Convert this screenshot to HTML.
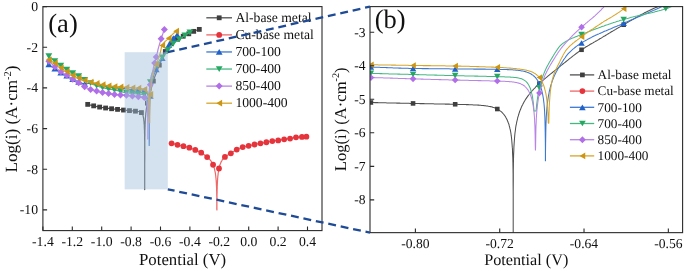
<!DOCTYPE html>
<html><head><meta charset="utf-8"><style>
html,body{margin:0;padding:0;background:#fff;width:685px;height:271px;overflow:hidden}
svg{display:block;will-change:transform}
text{font-family:"Liberation Serif",serif;text-rendering:geometricPrecision}
</style></head><body>
<svg width="685" height="271" viewBox="0 0 685 271" font-family="Liberation Serif, serif" fill="#111">
<defs><clipPath id="cl"><rect x="42.90" y="6.60" width="279.10" height="224.00"/></clipPath><clipPath id="cr"><rect x="370.00" y="6.60" width="312.60" height="226.05"/></clipPath></defs>
<g clip-path="url(#cl)"><path d="M87.0 104.2 L87.6 104.3 L88.2 104.5 L88.8 104.7 L89.4 104.8 L89.9 105.0 L90.5 105.1 L91.1 105.3 L91.7 105.4 L92.3 105.5 L92.9 105.7 L93.5 105.8 L94.1 105.9 L94.6 106.1 L95.2 106.2 L95.8 106.3 L96.4 106.5 L97.0 106.6 L97.6 106.7 L98.2 106.8 L98.8 106.9 L99.3 107.0 L99.9 107.1 L100.5 107.2 L101.1 107.3 L101.7 107.4 L102.3 107.5 L102.9 107.6 L103.5 107.7 L104.1 107.8 L104.6 107.9 L105.2 108.0 L105.8 108.0 L106.4 108.1 L107.0 108.2 L107.6 108.3 L108.2 108.3 L108.8 108.4 L109.3 108.5 L109.9 108.6 L110.5 108.6 L111.1 108.7 L111.7 108.8 L112.3 108.8 L112.9 108.9 L113.5 108.9 L114.0 109.0 L114.6 109.1 L115.2 109.1 L115.8 109.2 L116.4 109.3 L117.0 109.3 L117.6 109.4 L118.2 109.5 L118.8 109.5 L119.3 109.6 L119.9 109.7 L120.5 109.7 L121.1 109.8 L121.7 109.9 L122.3 109.9 L122.9 110.0 L123.5 110.0 L124.0 110.1 L124.6 110.2 L125.2 110.2 L125.8 110.3 L126.4 110.3 L127.0 110.4 L127.6 110.5 L128.2 110.5 L128.7 110.6 L129.3 110.6 L129.9 110.7 L130.5 110.7 L131.1 110.8 L131.7 110.8 L132.3 110.9 L132.9 110.9 L133.5 111.0 L134.0 111.0 L134.6 111.1 L135.2 111.1 L135.8 111.2 L136.4 111.3 L137.0 111.3 L137.6 111.4 L138.2 111.5 L138.7 111.5 L139.3 111.7 L139.9 111.8 L140.3 111.9 L140.5 112.0 L140.5 112.0 L140.6 112.1 L140.8 112.1 L140.9 112.2 L141.0 112.3 L141.1 112.3 L141.2 112.4 L141.3 112.5 L141.4 112.6 L141.6 112.7 L141.7 112.8 L141.7 112.8 L141.8 113.0 L141.9 113.1 L142.0 113.3 L142.1 113.4 L142.3 113.6 L142.3 113.7 L142.4 113.8 L142.5 114.1 L142.6 114.3 L142.7 114.5 L142.8 114.8 L142.9 115.0 L142.9 115.1 L143.0 115.4 L143.1 115.7 L143.2 116.1 L143.2 116.4 L143.3 116.8 L143.4 117.3 L143.4 117.5 L143.5 117.7 L143.6 118.2 L143.6 118.7 L143.7 119.2 L143.8 119.7 L143.8 120.3 L143.9 120.9 L144.0 121.5 L144.0 122.2 L144.1 122.9 L144.1 123.7 L144.2 124.5 L144.3 125.3 L144.3 126.2 L144.3 127.1 L144.4 128.1 L144.4 129.2 L144.5 130.3 L144.5 131.5 L144.5 132.8 L144.6 134.2 L144.6 135.7 L144.6 137.4 L144.6 137.8 L144.6 139.3 L144.7 141.4 L144.7 143.7 L144.7 146.4 L144.7 149.7 L144.7 153.6 L144.7 158.7 L144.7 165.9 L144.7 178.1 L144.7 189.6 L144.7 176.5 L144.7 164.2 L144.8 157.0 L144.8 151.9 L144.8 147.9 L144.8 144.7 L144.8 141.9 L144.8 139.5 L144.8 137.3 L144.9 135.4 L144.9 133.7 L144.9 132.0 L144.9 130.5 L145.0 129.1 L145.0 127.8 L145.1 126.5 L145.1 125.4 L145.1 124.2 L145.2 123.2 L145.2 122.5 L145.2 122.1 L145.3 121.1 L145.3 120.2 L145.4 119.2 L145.4 118.3 L145.5 117.5 L145.6 116.6 L145.6 115.8 L145.7 115.0 L145.8 114.2 L145.8 113.9 L145.8 113.5 L145.9 112.8 L146.0 112.0 L146.1 111.3 L146.2 110.7 L146.2 110.0 L146.3 109.3 L146.4 108.9 L146.4 108.7 L146.5 108.0 L146.6 107.4 L146.7 106.8 L146.8 106.2 L146.9 105.6 L147.0 105.2 L147.0 105.1 L147.1 104.5 L147.2 103.9 L147.3 103.4 L147.4 102.8 L147.6 102.3 L147.7 101.7 L147.8 101.2 L147.9 100.6 L148.1 100.1 L148.2 99.7 L148.2 99.6 L148.3 99.0 L148.4 98.5 L148.6 98.0 L148.7 97.4 L148.7 97.4 L148.9 96.9 L149.0 96.3 L149.2 95.8 L149.3 95.2 L149.9 93.0 L150.5 91.0 L151.1 89.0 L151.7 86.9 L152.3 84.8 L152.9 82.8 L153.4 80.8 L154.0 79.0 L154.6 77.3 L155.2 75.7 L155.8 74.2 L156.4 72.7 L157.0 71.2 L157.6 69.7 L158.1 68.1 L158.7 66.6 L159.3 65.1 L159.9 63.7 L160.5 62.2 L161.1 60.7 L161.7 59.2 L162.3 57.8 L162.9 56.4 L163.4 55.0 L164.0 53.8 L164.6 52.7 L165.2 51.7 L165.8 50.7 L166.4 49.8 L167.0 48.9 L167.6 48.1 L168.1 47.3 L168.7 46.5 L169.3 45.8 L169.9 45.1 L170.5 44.5 L171.1 43.9 L171.7 43.4 L172.3 42.9 L172.8 42.4 L173.4 41.9 L174.0 41.4 L174.6 41.0 L175.2 40.6 L175.8 40.2 L176.4 39.8 L177.0 39.4 L177.6 39.1 L178.1 38.7 L178.7 38.4 L179.3 38.1 L179.9 37.8 L180.5 37.5 L181.1 37.2 L181.7 36.9 L182.3 36.7 L182.8 36.4 L183.4 36.1 L184.0 35.9 L184.6 35.6 L185.2 35.4 L185.8 35.1 L186.4 34.9 L187.0 34.6 L187.5 34.4 L188.1 34.1 L188.7 33.8 L189.3 33.6 L189.9 33.3 L190.5 33.0 L191.1 32.7 L191.7 32.4 L192.3 32.1 L192.8 31.8 L193.4 31.5 L194.0 31.2 L194.6 31.0 L195.2 30.8 L195.8 30.5 L196.4 30.3 L197.0 30.1 L197.5 29.9 L198.1 29.7 L198.7 29.6 L199.3 29.4" fill="none" stroke="#505050" stroke-width="1.20" stroke-linejoin="round"/>
<rect x="85.31" y="101.98" width="4.80" height="4.80" fill="#3f3f3f"/>
<rect x="91.27" y="103.46" width="4.80" height="4.80" fill="#3f3f3f"/>
<rect x="97.24" y="104.68" width="4.80" height="4.80" fill="#3f3f3f"/>
<rect x="103.21" y="105.61" width="4.80" height="4.80" fill="#3f3f3f"/>
<rect x="109.18" y="106.35" width="4.80" height="4.80" fill="#3f3f3f"/>
<rect x="115.15" y="106.99" width="4.80" height="4.80" fill="#3f3f3f"/>
<rect x="121.11" y="107.66" width="4.80" height="4.80" fill="#3f3f3f"/>
<rect x="127.08" y="108.24" width="4.80" height="4.80" fill="#3f3f3f"/>
<rect x="133.05" y="108.77" width="4.80" height="4.80" fill="#3f3f3f"/>
<rect x="139.02" y="110.18" width="4.80" height="4.80" fill="#3f3f3f"/>
<rect x="144.99" y="100.70" width="4.80" height="4.80" fill="#3f3f3f"/>
<rect x="150.96" y="78.70" width="4.80" height="4.80" fill="#3f3f3f"/>
<rect x="156.92" y="62.73" width="4.80" height="4.80" fill="#3f3f3f"/>
<rect x="162.89" y="49.12" width="4.80" height="4.80" fill="#3f3f3f"/>
<rect x="168.86" y="41.36" width="4.80" height="4.80" fill="#3f3f3f"/>
<rect x="174.83" y="36.86" width="4.80" height="4.80" fill="#3f3f3f"/>
<rect x="180.80" y="33.85" width="4.80" height="4.80" fill="#3f3f3f"/>
<rect x="186.40" y="31.40" width="4.80" height="4.80" fill="#3f3f3f"/>
<rect x="191.32" y="28.95" width="4.80" height="4.80" fill="#3f3f3f"/>
<rect x="196.91" y="26.99" width="4.80" height="4.80" fill="#3f3f3f"/>
<path d="M171.6 143.3 L171.7 143.3 L172.3 143.5 L172.8 143.6 L173.4 143.8 L174.0 143.9 L174.6 144.1 L175.2 144.2 L175.8 144.4 L176.4 144.5 L177.0 144.6 L177.6 144.8 L178.1 144.9 L178.7 145.1 L179.3 145.2 L179.9 145.4 L180.5 145.5 L181.1 145.6 L181.7 145.8 L182.3 145.9 L182.8 146.1 L183.4 146.2 L184.0 146.4 L184.6 146.5 L185.2 146.6 L185.8 146.8 L186.4 146.9 L187.0 147.1 L187.5 147.2 L188.1 147.4 L188.7 147.5 L189.3 147.7 L189.9 147.9 L190.5 148.1 L191.1 148.3 L191.7 148.5 L192.3 148.7 L192.8 148.9 L193.4 149.1 L194.0 149.4 L194.6 149.6 L195.2 149.9 L195.8 150.1 L196.4 150.4 L197.0 150.6 L197.5 150.9 L198.1 151.1 L198.7 151.4 L199.3 151.7 L199.9 152.0 L200.5 152.3 L201.1 152.6 L201.7 152.9 L202.2 153.3 L202.8 153.7 L203.4 154.1 L204.0 154.6 L204.6 155.0 L205.2 155.5 L205.8 156.0 L206.4 156.4 L207.0 156.9 L207.5 157.4 L208.1 158.0 L208.7 158.5 L209.3 159.1 L209.9 159.7 L210.5 160.4 L211.1 161.2 L211.7 162.1 L212.2 163.1 L212.5 163.5 L212.6 163.8 L212.8 164.1 L212.8 164.2 L212.9 164.4 L213.0 164.7 L213.2 165.0 L213.3 165.3 L213.4 165.6 L213.4 165.6 L213.6 166.0 L213.7 166.3 L213.8 166.7 L213.9 167.1 L214.0 167.3 L214.1 167.4 L214.2 167.8 L214.3 168.2 L214.4 168.6 L214.5 169.0 L214.6 169.4 L214.6 169.5 L214.7 169.9 L214.8 170.4 L214.9 170.8 L215.0 171.3 L215.1 171.8 L215.2 172.2 L215.2 172.3 L215.3 172.8 L215.4 173.4 L215.5 173.9 L215.5 174.5 L215.6 175.0 L215.7 175.6 L215.8 176.3 L215.8 176.9 L215.9 177.6 L216.0 178.2 L216.0 178.9 L216.1 179.7 L216.2 180.4 L216.2 181.2 L216.3 182.0 L216.3 182.9 L216.4 183.3 L216.4 183.8 L216.4 184.7 L216.5 185.7 L216.5 186.8 L216.6 187.9 L216.6 189.0 L216.6 190.3 L216.7 191.6 L216.7 193.0 L216.7 194.6 L216.8 196.3 L216.8 198.2 L216.8 200.3 L216.8 202.7 L216.8 205.4 L216.8 208.6 L216.9 209.9 L216.9 209.9 L216.9 209.9 L216.9 209.9 L216.9 209.9 L216.9 209.9 L216.9 209.9 L216.9 209.9 L216.9 209.9 L216.9 208.5 L216.9 205.2 L216.9 202.5 L216.9 200.6 L217.0 200.1 L217.0 197.9 L217.0 196.0 L217.0 194.3 L217.1 192.7 L217.1 191.2 L217.1 189.9 L217.2 188.6 L217.2 187.4 L217.2 186.2 L217.3 185.1 L217.3 184.1 L217.4 183.1 L217.4 182.2 L217.5 181.3 L217.5 180.4 L217.5 180.2 L217.6 179.6 L217.6 178.8 L217.7 178.0 L217.8 177.2 L217.8 176.5 L217.9 175.8 L218.0 175.1 L218.1 174.4 L218.1 173.8 L218.1 173.8 L218.2 173.2 L218.3 172.6 L218.4 172.0 L218.5 171.4 L218.6 170.9 L218.6 170.3 L218.7 169.9 L218.7 169.8 L218.8 169.3 L218.9 168.8 L219.0 168.3 L219.1 167.9 L219.2 167.4 L219.3 167.2 L219.4 167.0 L219.5 166.5 L219.6 166.1 L219.7 165.7 L219.8 165.3 L219.9 165.1 L219.9 165.0 L220.1 164.6 L220.2 164.2 L220.3 163.9 L220.4 163.5 L220.5 163.5 L220.6 163.2 L220.7 162.9 L220.9 162.6 L221.0 162.3 L221.1 162.1 L221.1 162.0 L221.3 161.7 L221.7 161.0 L222.2 159.9 L222.8 159.1 L223.4 158.3 L224.0 157.7 L224.6 157.2 L225.2 156.7 L225.8 156.3 L226.4 155.9 L226.9 155.6 L227.5 155.2 L228.1 154.9 L228.7 154.5 L229.3 154.2 L229.9 153.9 L230.5 153.5 L231.1 153.2 L231.6 152.8 L232.2 152.4 L232.8 152.0 L233.4 151.6 L234.0 151.2 L234.6 150.8 L235.2 150.5 L235.8 150.1 L236.4 149.8 L236.9 149.5 L237.5 149.2 L238.1 148.9 L238.7 148.6 L239.3 148.3 L239.9 148.1 L240.5 147.8 L241.1 147.6 L241.6 147.4 L242.2 147.2 L242.8 147.0 L243.4 146.8 L244.0 146.7 L244.6 146.6 L245.2 146.5 L245.8 146.3 L246.3 146.2 L246.9 146.1 L247.5 146.0 L248.1 145.9 L248.7 145.8 L249.3 145.7 L249.9 145.5 L250.5 145.4 L251.1 145.3 L251.6 145.1 L252.2 145.0 L252.8 144.9 L253.4 144.7 L254.0 144.6 L254.6 144.5 L255.2 144.4 L255.8 144.2 L256.3 144.1 L256.9 144.0 L257.5 143.9 L258.1 143.7 L258.7 143.6 L259.3 143.5 L259.9 143.4 L260.5 143.3 L261.0 143.2 L261.6 143.1 L262.2 143.0 L262.8 142.9 L263.4 142.8 L264.0 142.7 L264.6 142.6 L265.2 142.5 L265.8 142.4 L266.3 142.3 L266.9 142.2 L267.5 142.0 L268.1 141.9 L268.7 141.8 L269.3 141.7 L269.9 141.5 L270.5 141.4 L271.0 141.3 L271.6 141.2 L272.2 141.1 L272.8 141.0 L273.4 140.9 L274.0 140.8 L274.6 140.8 L275.2 140.7 L275.7 140.7 L276.3 140.6 L276.9 140.6 L277.5 140.5 L278.1 140.4 L278.7 140.4 L279.3 140.3 L279.9 140.2 L280.5 140.1 L281.0 139.9 L281.6 139.8 L282.2 139.7 L282.8 139.6 L283.4 139.5 L284.0 139.3 L284.6 139.2 L285.2 139.2 L285.7 139.1 L286.3 139.0 L286.9 138.9 L287.5 138.9 L288.1 138.8 L288.7 138.7 L289.3 138.7 L289.9 138.6 L290.4 138.5 L291.0 138.4 L291.6 138.3 L292.2 138.1 L292.8 138.0 L293.4 137.8 L294.0 137.7 L294.6 137.5 L295.2 137.4 L295.7 137.3 L296.3 137.3 L296.9 137.2 L297.5 137.2 L298.1 137.2 L298.7 137.1 L299.3 137.1 L299.9 137.1 L300.4 137.1 L301.0 137.0 L301.6 137.0 L302.2 137.0 L302.8 136.9 L303.4 136.9 L304.0 136.8 L304.6 136.8 L305.1 136.7 L305.7 136.7 L306.3 136.7 L306.4 136.7" fill="none" stroke="#ee6868" stroke-width="1.20" stroke-linejoin="round"/>
<circle cx="171.60" cy="143.30" r="2.90" fill="#e6343c"/>
<circle cx="177.52" cy="144.79" r="2.90" fill="#e6343c"/>
<circle cx="183.45" cy="146.22" r="2.90" fill="#e6343c"/>
<circle cx="189.37" cy="147.70" r="2.90" fill="#e6343c"/>
<circle cx="195.29" cy="149.91" r="2.90" fill="#e6343c"/>
<circle cx="201.22" cy="152.67" r="2.90" fill="#e6343c"/>
<circle cx="207.14" cy="157.09" r="2.90" fill="#e6343c"/>
<circle cx="213.07" cy="164.75" r="2.90" fill="#e6343c"/>
<circle cx="218.99" cy="168.52" r="2.90" fill="#e6343c"/>
<circle cx="224.92" cy="156.95" r="2.90" fill="#e6343c"/>
<circle cx="230.84" cy="153.30" r="2.90" fill="#e6343c"/>
<circle cx="236.76" cy="149.57" r="2.90" fill="#e6343c"/>
<circle cx="242.69" cy="147.04" r="2.90" fill="#e6343c"/>
<circle cx="248.61" cy="145.82" r="2.90" fill="#e6343c"/>
<circle cx="254.54" cy="144.50" r="2.90" fill="#e6343c"/>
<circle cx="260.46" cy="143.28" r="2.90" fill="#e6343c"/>
<circle cx="266.38" cy="142.25" r="2.90" fill="#e6343c"/>
<circle cx="272.31" cy="141.06" r="2.90" fill="#e6343c"/>
<circle cx="278.23" cy="140.41" r="2.90" fill="#e6343c"/>
<circle cx="284.16" cy="139.32" r="2.90" fill="#e6343c"/>
<circle cx="290.08" cy="138.55" r="2.90" fill="#e6343c"/>
<circle cx="296.00" cy="137.30" r="2.90" fill="#e6343c"/>
<circle cx="301.93" cy="136.97" r="2.90" fill="#e6343c"/>
<circle cx="306.40" cy="136.65" r="2.90" fill="#e6343c"/>
<path d="M47.3 63.1 L47.6 63.4 L48.2 63.9 L48.8 64.4 L49.4 64.9 L50.0 65.3 L50.5 65.7 L51.1 66.2 L51.7 66.6 L52.3 67.0 L52.9 67.4 L53.5 67.8 L54.1 68.2 L54.7 68.6 L55.2 69.0 L55.8 69.3 L56.4 69.7 L57.0 70.1 L57.6 70.5 L58.2 70.9 L58.8 71.3 L59.4 71.7 L60.0 72.1 L60.5 72.4 L61.1 72.7 L61.7 73.1 L62.3 73.4 L62.9 73.7 L63.5 74.0 L64.1 74.3 L64.7 74.6 L65.2 74.9 L65.8 75.2 L66.4 75.5 L67.0 75.8 L67.6 76.1 L68.2 76.4 L68.8 76.8 L69.4 77.1 L69.9 77.5 L70.5 77.8 L71.1 78.1 L71.7 78.5 L72.3 78.8 L72.9 79.1 L73.5 79.4 L74.1 79.6 L74.7 79.9 L75.2 80.2 L75.8 80.5 L76.4 80.7 L77.0 81.0 L77.6 81.3 L78.2 81.5 L78.8 81.8 L79.4 82.0 L79.9 82.3 L80.5 82.6 L81.1 82.9 L81.7 83.2 L82.3 83.4 L82.9 83.6 L83.5 83.8 L84.1 83.8 L84.6 83.9 L85.2 83.8 L85.8 83.8 L86.4 83.7 L87.0 83.7 L87.6 83.6 L88.2 83.5 L88.8 83.4 L89.4 83.4 L89.9 83.3 L90.5 83.3 L91.1 83.2 L91.7 83.3 L92.3 83.3 L92.9 83.4 L93.5 83.5 L94.1 83.7 L94.6 83.9 L95.2 84.1 L95.8 84.3 L96.4 84.4 L97.0 84.6 L97.6 84.7 L98.2 84.9 L98.8 85.0 L99.3 85.1 L99.9 85.2 L100.5 85.4 L101.1 85.5 L101.7 85.6 L102.3 85.7 L102.9 85.8 L103.5 85.9 L104.1 86.1 L104.6 86.2 L105.2 86.3 L105.8 86.4 L106.4 86.5 L107.0 86.6 L107.6 86.7 L108.2 86.8 L108.8 86.9 L109.3 86.9 L109.9 87.0 L110.5 87.1 L111.1 87.2 L111.7 87.3 L112.3 87.4 L112.9 87.5 L113.5 87.5 L114.0 87.6 L114.6 87.7 L115.2 87.8 L115.8 87.8 L116.4 87.9 L117.0 87.9 L117.6 88.0 L118.2 88.1 L118.8 88.1 L119.3 88.2 L119.9 88.2 L120.5 88.3 L121.1 88.4 L121.7 88.4 L122.3 88.5 L122.9 88.5 L123.5 88.6 L124.0 88.6 L124.6 88.7 L125.2 88.8 L125.8 88.8 L126.4 88.9 L127.0 89.0 L127.6 89.1 L128.2 89.2 L128.7 89.3 L129.3 89.4 L129.9 89.5 L130.5 89.5 L131.1 89.6 L131.7 89.6 L132.3 89.6 L132.9 89.7 L133.5 89.7 L134.0 89.7 L134.6 89.8 L135.2 89.8 L135.8 89.8 L136.4 89.8 L137.0 89.8 L137.6 89.9 L138.2 89.9 L138.7 89.9 L139.3 89.9 L139.9 90.0 L140.5 90.0 L141.1 90.0 L141.7 90.0 L142.3 90.1 L142.9 90.1 L143.4 90.2 L144.0 90.3 L144.6 90.4 L144.8 90.5 L145.0 90.5 L145.1 90.6 L145.2 90.6 L145.3 90.6 L145.4 90.7 L145.5 90.8 L145.7 90.8 L145.8 90.9 L145.8 90.9 L145.9 91.0 L146.1 91.1 L146.2 91.2 L146.3 91.4 L146.4 91.5 L146.4 91.5 L146.5 91.6 L146.6 91.8 L146.8 92.0 L146.9 92.2 L147.0 92.4 L147.0 92.4 L147.1 92.6 L147.2 92.8 L147.3 93.1 L147.4 93.3 L147.5 93.6 L147.6 93.9 L147.6 93.9 L147.7 94.3 L147.7 94.6 L147.8 95.0 L147.9 95.4 L148.0 95.8 L148.1 96.3 L148.1 96.8 L148.2 96.9 L148.2 97.3 L148.3 97.8 L148.3 98.4 L148.4 99.0 L148.5 99.6 L148.5 100.3 L148.6 101.0 L148.6 101.7 L148.7 102.5 L148.7 103.2 L148.7 103.4 L148.8 104.2 L148.8 105.2 L148.9 106.2 L148.9 107.2 L149.0 108.3 L149.0 109.6 L149.0 110.9 L149.1 112.3 L149.1 113.8 L149.1 115.5 L149.1 117.3 L149.2 119.4 L149.2 121.8 L149.2 124.5 L149.2 127.7 L149.2 131.7 L149.2 136.7 L149.2 143.9 L149.2 145.5 L149.2 145.5 L149.2 145.5 L149.2 145.5 L149.3 140.7 L149.3 135.5 L149.3 131.5 L149.3 128.2 L149.3 125.4 L149.3 122.9 L149.3 121.8 L149.3 120.7 L149.4 118.7 L149.4 116.9 L149.4 115.2 L149.4 113.6 L149.5 112.1 L149.5 110.7 L149.6 109.3 L149.6 108.1 L149.6 106.9 L149.7 105.7 L149.7 104.6 L149.8 103.5 L149.8 102.5 L149.9 101.5 L149.9 101.1 L149.9 100.6 L150.0 99.7 L150.1 98.8 L150.1 97.9 L150.2 97.1 L150.3 96.3 L150.3 95.5 L150.4 94.7 L150.5 93.9 L150.5 93.8 L150.6 93.2 L150.7 92.5 L150.7 91.7 L150.8 91.0 L150.9 90.3 L151.0 89.6 L151.1 89.0 L151.1 88.9 L151.2 88.2 L151.3 87.6 L151.4 86.9 L151.5 86.2 L151.6 85.4 L151.7 85.0 L151.7 84.7 L151.8 84.0 L151.9 83.3 L152.1 82.5 L152.2 81.9 L152.3 81.4 L152.3 81.2 L152.4 80.6 L152.6 80.0 L152.7 79.4 L152.8 78.9 L152.9 78.7 L152.9 78.4 L153.1 77.9 L153.2 77.3 L153.4 76.9 L153.4 76.6 L153.5 76.4 L153.6 75.9 L154.0 74.7 L154.6 73.2 L155.2 71.7 L155.8 70.4 L156.4 69.2 L157.0 68.0 L157.6 66.9 L158.1 65.8 L158.7 64.8 L159.3 63.7 L159.9 62.6 L160.5 61.5 L161.1 60.4 L161.7 59.3 L162.3 58.2 L162.9 57.1 L163.4 56.0 L164.0 54.9 L164.6 53.8 L165.2 52.6 L165.8 51.4 L166.4 50.0 L167.0 48.7 L167.6 47.3 L168.1 46.2 L168.7 45.1 L169.3 44.0 L169.9 43.0 L170.5 42.0 L171.1 41.1 L171.7 40.2 L172.3 39.4 L172.8 38.6 L173.4 38.0 L174.0 37.3 L174.6 36.8 L175.2 36.3 L175.8 35.9 L176.4 35.5 L177.0 35.1 L177.6 34.8 L178.1 34.5 L178.2 34.5" fill="none" stroke="#3b78d0" stroke-width="1.20" stroke-linejoin="round"/>
<path d="M48.85 61.56 L52.25 67.36 L45.45 67.36 Z" fill="#2062c8"/>
<path d="M54.82 65.77 L58.22 71.57 L51.42 71.57 Z" fill="#2062c8"/>
<path d="M60.79 69.65 L64.19 75.45 L57.39 75.45 Z" fill="#2062c8"/>
<path d="M66.76 72.74 L70.16 78.54 L63.36 78.54 Z" fill="#2062c8"/>
<path d="M72.73 76.09 L76.13 81.89 L69.33 81.89 Z" fill="#2062c8"/>
<path d="M78.69 78.83 L82.09 84.63 L75.29 84.63 Z" fill="#2062c8"/>
<path d="M84.66 80.95 L88.06 86.75 L81.26 86.75 Z" fill="#2062c8"/>
<path d="M132.41 86.75 L135.81 92.55 L129.01 92.55 Z" fill="#2062c8"/>
<path d="M138.38 87.00 L141.78 92.80 L134.98 92.80 Z" fill="#2062c8"/>
<path d="M144.34 87.43 L147.74 93.23 L140.94 93.23 Z" fill="#2062c8"/>
<path d="M150.31 92.89 L153.71 98.69 L146.91 98.69 Z" fill="#2062c8"/>
<path d="M156.28 66.49 L159.68 72.29 L152.88 72.29 Z" fill="#2062c8"/>
<path d="M162.25 55.32 L165.65 61.12 L158.85 61.12 Z" fill="#2062c8"/>
<path d="M168.89 41.88 L172.29 47.68 L165.49 47.68 Z" fill="#2062c8"/>
<path d="M173.30 35.21 L176.70 41.01 L169.90 41.01 Z" fill="#2062c8"/>
<path d="M177.20 32.05 L180.60 37.85 L173.80 37.85 Z" fill="#2062c8"/>
<path d="M47.3 55.0 L47.6 55.2 L48.2 55.7 L48.8 56.2 L49.4 56.7 L50.0 57.2 L50.5 57.6 L51.1 58.1 L51.7 58.6 L52.3 59.1 L52.9 59.6 L53.5 60.0 L54.1 60.5 L54.7 61.0 L55.2 61.4 L55.8 61.9 L56.4 62.4 L57.0 62.8 L57.6 63.3 L58.2 63.7 L58.8 64.2 L59.4 64.6 L60.0 65.0 L60.5 65.4 L61.1 65.9 L61.7 66.3 L62.3 66.7 L62.9 67.0 L63.5 67.4 L64.1 67.8 L64.7 68.2 L65.2 68.6 L65.8 68.9 L66.4 69.3 L67.0 69.7 L67.6 70.1 L68.2 70.5 L68.8 70.8 L69.4 71.2 L69.9 71.6 L70.5 72.0 L71.1 72.3 L71.7 72.7 L72.3 73.0 L72.9 73.3 L73.5 73.6 L74.1 73.9 L74.7 74.2 L75.2 74.5 L75.8 74.8 L76.4 75.1 L77.0 75.3 L77.6 75.6 L78.2 76.0 L78.8 76.3 L79.4 76.6 L79.9 77.0 L80.5 77.3 L81.1 77.7 L81.7 78.1 L82.3 78.5 L82.9 78.9 L83.5 79.2 L84.1 79.6 L84.6 79.9 L85.2 80.3 L85.8 80.6 L86.4 80.9 L87.0 81.3 L87.6 81.6 L88.2 81.9 L88.8 82.2 L89.4 82.5 L89.9 82.8 L90.5 83.1 L91.1 83.4 L91.7 83.7 L92.3 83.9 L92.9 84.2 L93.5 84.5 L94.1 84.7 L94.6 85.0 L95.2 85.2 L95.8 85.4 L96.4 85.7 L97.0 85.9 L97.6 86.1 L98.2 86.3 L98.8 86.5 L99.3 86.7 L99.9 86.9 L100.5 87.0 L101.1 87.2 L101.7 87.4 L102.3 87.5 L102.9 87.7 L103.5 87.9 L104.1 88.0 L104.6 88.2 L105.2 88.3 L105.8 88.4 L106.4 88.6 L107.0 88.7 L107.6 88.8 L108.2 89.0 L108.8 89.1 L109.3 89.2 L109.9 89.3 L110.5 89.4 L111.1 89.5 L111.7 89.5 L112.3 89.6 L112.9 89.7 L113.5 89.8 L114.0 89.9 L114.6 90.0 L115.2 90.1 L115.8 90.2 L116.4 90.4 L117.0 90.5 L117.6 90.6 L118.2 90.8 L118.8 90.9 L119.3 91.1 L119.9 91.3 L120.5 91.4 L121.1 91.6 L121.7 91.8 L122.3 91.9 L122.9 92.1 L123.5 92.2 L124.0 92.3 L124.6 92.4 L125.2 92.5 L125.8 92.6 L126.4 92.7 L127.0 92.8 L127.6 92.9 L128.2 92.9 L128.7 93.0 L129.3 93.1 L129.9 93.1 L130.5 93.2 L131.1 93.3 L131.7 93.3 L132.3 93.4 L132.9 93.5 L133.5 93.5 L134.0 93.6 L134.6 93.7 L135.2 93.7 L135.8 93.8 L136.4 93.9 L137.0 93.9 L137.6 94.0 L138.2 94.1 L138.7 94.1 L139.3 94.2 L139.9 94.2 L140.5 94.3 L141.1 94.4 L141.7 94.4 L142.3 94.5 L142.9 94.6 L143.4 94.6 L143.4 94.6 L143.5 94.6 L143.6 94.7 L143.8 94.7 L143.9 94.7 L144.0 94.7 L144.1 94.7 L144.2 94.8 L144.3 94.8 L144.5 94.8 L144.6 94.9 L144.6 94.9 L144.7 94.9 L144.8 95.0 L144.9 95.0 L145.1 95.1 L145.2 95.1 L145.2 95.1 L145.3 95.2 L145.4 95.3 L145.5 95.4 L145.6 95.5 L145.7 95.6 L145.8 95.7 L145.8 95.7 L145.9 95.8 L146.0 96.0 L146.1 96.2 L146.2 96.4 L146.3 96.6 L146.4 96.8 L146.4 97.0 L146.4 97.1 L146.5 97.4 L146.6 97.8 L146.7 98.1 L146.7 98.5 L146.8 98.9 L146.9 99.4 L146.9 99.9 L147.0 100.2 L147.0 100.5 L147.1 101.0 L147.1 101.7 L147.2 102.4 L147.2 103.1 L147.3 103.9 L147.3 104.7 L147.4 105.6 L147.4 106.6 L147.5 107.6 L147.5 108.7 L147.5 109.9 L147.6 111.2 L147.6 111.2 L147.6 112.6 L147.6 114.1 L147.6 115.4 L147.7 115.4 L147.7 115.4 L147.7 115.4 L147.7 115.4 L147.7 115.4 L147.8 115.4 L147.8 115.4 L147.8 115.4 L147.8 115.4 L147.8 115.4 L147.8 115.4 L147.8 115.4 L147.8 115.4 L147.8 115.4 L147.8 115.4 L147.8 115.4 L147.8 115.4 L147.8 115.4 L147.9 115.4 L147.9 115.4 L147.9 115.4 L147.9 114.8 L148.0 113.2 L148.0 111.7 L148.0 110.3 L148.1 109.0 L148.1 107.7 L148.2 106.9 L148.2 106.5 L148.2 105.3 L148.3 104.2 L148.3 103.1 L148.4 102.0 L148.4 101.0 L148.5 99.9 L148.5 99.0 L148.6 98.0 L148.7 97.0 L148.7 96.1 L148.7 96.0 L148.8 95.2 L148.9 94.3 L148.9 93.5 L149.0 92.6 L149.1 91.8 L149.2 91.0 L149.3 90.1 L149.3 89.6 L149.4 89.3 L149.4 88.6 L149.5 87.8 L149.6 87.0 L149.7 86.2 L149.8 85.5 L149.9 84.9 L149.9 84.7 L150.0 84.0 L150.1 83.3 L150.3 82.5 L150.4 81.7 L150.5 80.9 L150.5 80.7 L150.6 80.1 L150.7 79.3 L150.8 78.5 L151.0 77.7 L151.1 76.9 L151.1 76.9 L151.2 76.2 L151.3 75.6 L151.5 75.0 L151.6 74.6 L151.7 74.3 L151.7 74.1 L151.9 73.7 L152.0 73.3 L152.2 72.9 L152.3 72.7 L152.9 71.5 L153.4 70.4 L154.0 69.4 L154.6 68.4 L155.2 67.3 L155.8 66.3 L156.4 65.4 L157.0 64.4 L157.6 63.5 L158.1 62.6 L158.7 61.8 L159.3 61.0 L159.9 60.2 L160.5 59.4 L161.1 58.7 L161.7 58.1 L162.3 57.5 L162.9 56.9 L163.4 56.3 L164.0 55.8 L164.6 55.1 L165.2 54.4 L165.8 53.7 L166.4 52.9 L167.0 51.8 L167.6 50.6 L168.1 49.6 L168.7 48.7 L169.3 48.0 L169.9 47.2 L170.5 46.5 L171.1 45.8 L171.7 45.2 L172.3 44.6 L172.8 44.0 L173.4 43.5 L174.0 43.0 L174.6 42.6 L175.2 42.1 L175.8 41.8 L176.4 41.4 L177.0 41.0 L177.6 40.7 L178.1 40.3 L178.7 39.9 L179.3 39.5 L179.9 39.1 L180.5 38.7 L181.1 38.2 L181.7 37.7 L182.3 37.3 L182.8 36.8 L183.4 36.4 L184.0 35.9 L184.6 35.5 L185.2 35.1 L185.8 34.7 L186.4 34.4 L187.0 34.0 L187.5 33.6 L188.1 33.3 L188.7 32.9 L189.3 32.6" fill="none" stroke="#45b882" stroke-width="1.20" stroke-linejoin="round"/>
<path d="M48.85 59.15 L52.25 53.35 L45.45 53.35 Z" fill="#27a862"/>
<path d="M54.82 64.01 L58.22 58.21 L51.42 58.21 Z" fill="#27a862"/>
<path d="M60.79 68.52 L64.19 62.72 L57.39 62.72 Z" fill="#27a862"/>
<path d="M66.76 72.43 L70.16 66.63 L63.36 66.63 Z" fill="#27a862"/>
<path d="M72.73 76.16 L76.13 70.36 L69.33 70.36 Z" fill="#27a862"/>
<path d="M78.69 79.14 L82.09 73.34 L75.29 73.34 Z" fill="#27a862"/>
<path d="M84.66 82.84 L88.06 77.04 L81.26 77.04 Z" fill="#27a862"/>
<path d="M90.63 86.04 L94.03 80.24 L87.23 80.24 Z" fill="#27a862"/>
<path d="M96.60 88.64 L100.00 82.84 L93.20 82.84 Z" fill="#27a862"/>
<path d="M102.57 90.52 L105.97 84.72 L99.17 84.72 Z" fill="#27a862"/>
<path d="M108.54 91.92 L111.94 86.12 L105.14 86.12 Z" fill="#27a862"/>
<path d="M114.50 92.90 L117.90 87.10 L111.10 87.10 Z" fill="#27a862"/>
<path d="M120.47 94.32 L123.87 88.52 L117.07 88.52 Z" fill="#27a862"/>
<path d="M126.44 95.61 L129.84 89.81 L123.04 89.81 Z" fill="#27a862"/>
<path d="M132.41 96.32 L135.81 90.52 L129.01 90.52 Z" fill="#27a862"/>
<path d="M138.38 96.99 L141.78 91.19 L134.98 91.19 Z" fill="#27a862"/>
<path d="M144.34 97.71 L147.74 91.91 L140.94 91.91 Z" fill="#27a862"/>
<path d="M150.31 84.94 L153.71 79.14 L146.91 79.14 Z" fill="#27a862"/>
<path d="M156.28 68.44 L159.68 62.64 L152.88 62.64 Z" fill="#27a862"/>
<path d="M162.25 60.42 L165.65 54.62 L158.85 54.62 Z" fill="#27a862"/>
<path d="M167.81 53.05 L171.21 47.25 L164.41 47.25 Z" fill="#27a862"/>
<path d="M173.30 46.52 L176.70 40.72 L169.90 40.72 Z" fill="#27a862"/>
<path d="M179.40 42.36 L182.80 36.56 L176.00 36.56 Z" fill="#27a862"/>
<path d="M184.90 38.23 L188.30 32.43 L181.50 32.43 Z" fill="#27a862"/>
<path d="M189.90 35.19 L193.30 29.39 L186.50 29.39 Z" fill="#27a862"/>
<path d="M47.3 59.9 L47.6 60.1 L48.2 60.7 L48.8 61.2 L49.4 61.7 L50.0 62.3 L50.5 62.8 L51.1 63.3 L51.7 63.9 L52.3 64.4 L52.9 65.0 L53.5 65.5 L54.1 66.0 L54.7 66.5 L55.2 67.1 L55.8 67.6 L56.4 68.1 L57.0 68.6 L57.6 69.1 L58.2 69.6 L58.8 70.1 L59.4 70.6 L60.0 71.0 L60.5 71.5 L61.1 71.9 L61.7 72.3 L62.3 72.7 L62.9 73.0 L63.5 73.4 L64.1 73.7 L64.7 74.0 L65.2 74.4 L65.8 74.7 L66.4 75.1 L67.0 75.5 L67.6 75.8 L68.2 76.2 L68.8 76.6 L69.4 77.1 L69.9 77.5 L70.5 77.9 L71.1 78.3 L71.7 78.7 L72.3 79.0 L72.9 79.4 L73.5 79.7 L74.1 80.1 L74.7 80.4 L75.2 80.7 L75.8 81.0 L76.4 81.4 L77.0 81.7 L77.6 82.0 L78.2 82.4 L78.8 82.7 L79.4 83.1 L79.9 83.5 L80.5 83.9 L81.1 84.3 L81.7 84.7 L82.3 85.1 L82.9 85.5 L83.5 85.9 L84.1 86.3 L84.6 86.6 L85.2 87.0 L85.8 87.3 L86.4 87.6 L87.0 88.0 L87.6 88.3 L88.2 88.5 L88.8 88.8 L89.4 89.1 L89.9 89.3 L90.5 89.5 L91.1 89.6 L91.7 89.8 L92.3 90.0 L92.9 90.1 L93.5 90.2 L94.1 90.4 L94.6 90.6 L95.2 90.7 L95.8 90.9 L96.4 91.1 L97.0 91.2 L97.6 91.4 L98.2 91.5 L98.8 91.7 L99.3 91.8 L99.9 92.0 L100.5 92.1 L101.1 92.2 L101.7 92.4 L102.3 92.5 L102.9 92.6 L103.5 92.7 L104.1 92.8 L104.6 92.9 L105.2 93.0 L105.8 93.1 L106.4 93.2 L107.0 93.3 L107.6 93.4 L108.2 93.5 L108.8 93.6 L109.3 93.7 L109.9 93.8 L110.5 93.9 L111.1 94.0 L111.7 94.1 L112.3 94.1 L112.9 94.2 L113.5 94.3 L114.0 94.4 L114.6 94.4 L115.2 94.5 L115.8 94.6 L116.4 94.7 L117.0 94.7 L117.6 94.8 L118.2 94.8 L118.8 94.9 L119.3 94.9 L119.9 95.0 L120.5 95.0 L121.1 95.0 L121.7 95.1 L122.3 95.1 L122.9 95.1 L123.5 95.1 L124.0 95.1 L124.6 95.1 L125.2 95.1 L125.8 95.2 L126.4 95.2 L127.0 95.3 L127.6 95.4 L128.2 95.5 L128.7 95.6 L129.3 95.7 L129.9 95.7 L130.5 95.8 L131.1 95.9 L131.7 96.0 L132.3 96.1 L132.9 96.1 L133.5 96.2 L134.0 96.3 L134.6 96.3 L135.2 96.4 L135.8 96.5 L136.4 96.5 L137.0 96.6 L137.6 96.7 L138.2 96.7 L138.7 96.8 L139.3 96.9 L139.9 96.9 L140.5 97.0 L141.1 97.0 L141.7 97.1 L142.3 97.2 L142.9 97.2 L143.4 97.3 L143.4 97.3 L143.6 97.4 L143.7 97.4 L143.9 97.4 L144.0 97.5 L144.0 97.5 L144.1 97.5 L144.3 97.6 L144.4 97.6 L144.5 97.7 L144.6 97.7 L144.7 97.7 L144.8 97.8 L144.9 97.9 L145.0 98.0 L145.1 98.1 L145.2 98.1 L145.3 98.2 L145.4 98.3 L145.5 98.4 L145.6 98.6 L145.7 98.7 L145.8 98.9 L145.8 98.9 L145.9 99.1 L146.0 99.3 L146.1 99.5 L146.2 99.8 L146.3 100.0 L146.3 100.3 L146.4 100.5 L146.4 100.7 L146.5 101.0 L146.6 101.4 L146.7 101.8 L146.7 102.2 L146.8 102.7 L146.9 103.2 L147.0 103.7 L147.0 103.9 L147.0 104.3 L147.1 104.8 L147.1 105.5 L147.2 106.2 L147.3 106.9 L147.3 107.6 L147.4 108.4 L147.4 109.3 L147.4 110.2 L147.5 111.2 L147.5 112.2 L147.6 113.2 L147.6 113.4 L147.6 114.6 L147.6 115.9 L147.7 117.3 L147.7 118.8 L147.7 120.5 L147.7 122.3 L147.8 124.4 L147.8 126.8 L147.8 129.5 L147.8 132.7 L147.8 136.6 L147.8 138.9 L147.8 138.9 L147.8 138.9 L147.8 138.9 L147.8 138.9 L147.8 138.9 L147.9 138.9 L147.9 136.9 L147.9 132.8 L147.9 129.5 L147.9 126.7 L147.9 124.3 L147.9 122.0 L148.0 120.1 L148.0 118.2 L148.0 116.5 L148.1 114.9 L148.1 113.4 L148.1 112.0 L148.2 110.9 L148.2 110.7 L148.2 109.4 L148.2 108.2 L148.3 107.0 L148.3 105.9 L148.4 104.8 L148.4 103.7 L148.5 102.7 L148.5 101.7 L148.6 100.7 L148.7 99.8 L148.7 98.9 L148.7 98.8 L148.8 98.0 L148.9 97.1 L148.9 96.2 L149.0 95.4 L149.1 94.6 L149.2 93.8 L149.3 93.0 L149.3 92.3 L149.3 92.2 L149.4 91.4 L149.5 90.7 L149.6 89.9 L149.7 89.1 L149.8 88.4 L149.9 87.6 L149.9 87.5 L150.0 86.9 L150.1 86.1 L150.2 85.4 L150.3 84.6 L150.4 83.8 L150.5 83.3 L150.5 83.0 L150.7 82.2 L150.8 81.4 L150.9 80.6 L151.0 79.8 L151.1 79.4 L151.2 79.0 L151.3 78.2 L151.4 77.4 L151.5 76.7 L151.7 76.0 L151.7 76.0 L151.8 75.2 L152.0 74.5 L152.1 73.8 L152.3 73.1 L152.3 73.1 L152.9 70.4 L153.4 67.9 L154.0 65.5 L154.6 63.2 L155.2 61.1 L155.8 58.9 L156.4 56.7 L157.0 54.2 L157.6 51.5 L158.1 49.2 L158.7 46.9 L159.3 44.8 L159.9 42.8 L160.5 40.8 L161.1 38.9 L161.7 37.1 L162.3 35.3 L162.9 33.6 L163.4 32.0 L164.0 30.4 L164.6 28.9 L164.9 28.2" fill="none" stroke="#b884e6" stroke-width="1.20" stroke-linejoin="round"/>
<path d="M48.85 57.76 L52.35 61.26 L48.85 64.76 L45.35 61.26 Z" fill="#b06fe8"/>
<path d="M54.82 63.18 L58.32 66.68 L54.82 70.18 L51.32 66.68 Z" fill="#b06fe8"/>
<path d="M60.79 68.15 L64.29 71.65 L60.79 75.15 L57.29 71.65 Z" fill="#b06fe8"/>
<path d="M66.76 71.80 L70.26 75.30 L66.76 78.80 L63.26 75.30 Z" fill="#b06fe8"/>
<path d="M72.73 75.79 L76.23 79.29 L72.73 82.79 L69.23 79.29 Z" fill="#b06fe8"/>
<path d="M78.69 79.17 L82.19 82.67 L78.69 86.17 L75.19 82.67 Z" fill="#b06fe8"/>
<path d="M84.66 83.15 L88.16 86.65 L84.66 90.15 L81.16 86.65 Z" fill="#b06fe8"/>
<path d="M90.63 86.01 L94.13 89.51 L90.63 93.01 L87.13 89.51 Z" fill="#b06fe8"/>
<path d="M96.60 87.61 L100.10 91.11 L96.60 94.61 L93.10 91.11 Z" fill="#b06fe8"/>
<path d="M102.57 89.02 L106.07 92.52 L102.57 96.02 L99.07 92.52 Z" fill="#b06fe8"/>
<path d="M108.54 90.05 L112.04 93.55 L108.54 97.05 L105.04 93.55 Z" fill="#b06fe8"/>
<path d="M114.50 90.93 L118.00 94.43 L114.50 97.93 L111.00 94.43 Z" fill="#b06fe8"/>
<path d="M120.47 91.51 L123.97 95.01 L120.47 98.51 L116.97 95.01 Z" fill="#b06fe8"/>
<path d="M126.44 91.73 L129.94 95.23 L126.44 98.73 L122.94 95.23 Z" fill="#b06fe8"/>
<path d="M132.41 92.57 L135.91 96.07 L132.41 99.57 L128.91 96.07 Z" fill="#b06fe8"/>
<path d="M138.38 93.26 L141.88 96.76 L138.38 100.26 L134.88 96.76 Z" fill="#b06fe8"/>
<path d="M144.34 94.10 L147.84 97.60 L144.34 101.10 L140.84 97.60 Z" fill="#b06fe8"/>
<path d="M150.31 81.18 L153.81 84.68 L150.31 88.18 L146.81 84.68 Z" fill="#b06fe8"/>
<path d="M156.28 53.59 L159.78 57.09 L156.28 60.59 L152.78 57.09 Z" fill="#b06fe8"/>
<path d="M154.69 59.46 L158.19 62.96 L154.69 66.46 L151.19 62.96 Z" fill="#b06fe8"/>
<path d="M161.10 35.36 L164.60 38.86 L161.10 42.36 L157.60 38.86 Z" fill="#b06fe8"/>
<path d="M164.40 25.96 L167.90 29.46 L164.40 32.96 L160.90 29.46 Z" fill="#b06fe8"/>
<path d="M47.3 58.6 L47.6 58.9 L48.2 59.4 L48.8 59.8 L49.4 60.2 L50.0 60.5 L50.5 60.9 L51.1 61.2 L51.7 61.5 L52.3 61.8 L52.9 62.1 L53.5 62.4 L54.1 62.8 L54.7 63.1 L55.2 63.5 L55.8 63.9 L56.4 64.3 L57.0 64.8 L57.6 65.3 L58.2 65.8 L58.8 66.3 L59.4 66.8 L60.0 67.2 L60.5 67.7 L61.1 68.1 L61.7 68.5 L62.3 68.9 L62.9 69.2 L63.5 69.6 L64.1 69.9 L64.7 70.3 L65.2 70.6 L65.8 71.0 L66.4 71.4 L67.0 71.7 L67.6 72.1 L68.2 72.5 L68.8 72.9 L69.4 73.2 L69.9 73.6 L70.5 74.0 L71.1 74.4 L71.7 74.7 L72.3 75.1 L72.9 75.4 L73.5 75.7 L74.1 76.0 L74.7 76.3 L75.2 76.5 L75.8 76.8 L76.4 77.1 L77.0 77.3 L77.6 77.6 L78.2 77.8 L78.8 78.1 L79.4 78.4 L79.9 78.6 L80.5 78.9 L81.1 79.1 L81.7 79.4 L82.3 79.6 L82.9 79.9 L83.5 80.1 L84.1 80.3 L84.6 80.5 L85.2 80.7 L85.8 80.8 L86.4 81.0 L87.0 81.2 L87.6 81.3 L88.2 81.5 L88.8 81.6 L89.4 81.8 L89.9 81.9 L90.5 82.1 L91.1 82.2 L91.7 82.4 L92.3 82.5 L92.9 82.7 L93.5 82.8 L94.1 82.9 L94.6 83.1 L95.2 83.2 L95.8 83.3 L96.4 83.5 L97.0 83.6 L97.6 83.7 L98.2 83.8 L98.8 84.0 L99.3 84.1 L99.9 84.2 L100.5 84.3 L101.1 84.5 L101.7 84.6 L102.3 84.7 L102.9 84.8 L103.5 84.9 L104.1 85.0 L104.6 85.1 L105.2 85.3 L105.8 85.4 L106.4 85.5 L107.0 85.6 L107.6 85.7 L108.2 85.8 L108.8 85.8 L109.3 85.9 L109.9 86.0 L110.5 86.1 L111.1 86.2 L111.7 86.2 L112.3 86.3 L112.9 86.4 L113.5 86.5 L114.0 86.5 L114.6 86.6 L115.2 86.6 L115.8 86.7 L116.4 86.7 L117.0 86.8 L117.6 86.8 L118.2 86.8 L118.8 86.9 L119.3 86.9 L119.9 87.0 L120.5 87.0 L121.1 87.0 L121.7 87.1 L122.3 87.1 L122.9 87.2 L123.5 87.2 L124.0 87.2 L124.6 87.3 L125.2 87.3 L125.8 87.4 L126.4 87.4 L127.0 87.5 L127.6 87.5 L128.2 87.5 L128.7 87.6 L129.3 87.6 L129.9 87.7 L130.5 87.7 L131.1 87.7 L131.7 87.8 L132.3 87.8 L132.9 87.8 L133.5 87.9 L134.0 87.9 L134.6 87.9 L135.2 88.0 L135.8 88.0 L136.4 88.1 L137.0 88.1 L137.6 88.2 L138.2 88.2 L138.7 88.3 L139.3 88.4 L139.9 88.5 L140.5 88.5 L141.1 88.6 L141.7 88.7 L142.3 88.8 L142.9 88.9 L143.4 89.1 L144.0 89.3 L144.6 89.5 L145.2 89.7 L145.3 89.8 L145.4 89.8 L145.6 89.9 L145.7 90.0 L145.8 90.0 L145.8 90.1 L146.0 90.2 L146.1 90.2 L146.2 90.3 L146.4 90.4 L146.4 90.5 L146.5 90.5 L146.6 90.7 L146.7 90.8 L146.9 90.9 L147.0 91.1 L147.0 91.1 L147.1 91.2 L147.2 91.4 L147.3 91.6 L147.4 91.8 L147.5 92.0 L147.6 92.1 L147.6 92.2 L147.7 92.5 L147.8 92.8 L147.9 93.0 L148.0 93.4 L148.1 93.7 L148.2 93.9 L148.2 94.0 L148.3 94.4 L148.3 94.8 L148.4 95.3 L148.5 95.7 L148.6 96.2 L148.7 96.7 L148.7 97.2 L148.7 97.4 L148.8 97.8 L148.9 98.4 L148.9 99.0 L149.0 99.7 L149.0 100.4 L149.1 101.1 L149.1 101.9 L149.2 102.8 L149.2 103.6 L149.3 104.6 L149.3 105.6 L149.3 105.6 L149.4 106.6 L149.4 107.7 L149.4 108.9 L149.5 110.2 L149.5 111.7 L149.5 113.2 L149.6 114.9 L149.6 116.7 L149.6 118.8 L149.6 121.2 L149.6 122.7 L149.7 122.7 L149.7 122.7 L149.7 122.7 L149.7 122.7 L149.7 122.7 L149.7 122.7 L149.7 122.7 L149.7 122.7 L149.7 122.7 L149.7 122.7 L149.7 122.7 L149.7 119.6 L149.7 116.8 L149.8 114.3 L149.8 112.1 L149.8 110.2 L149.8 108.3 L149.9 106.7 L149.9 105.1 L149.9 103.9 L149.9 103.7 L150.0 102.4 L150.0 101.1 L150.0 99.9 L150.1 98.9 L150.1 97.8 L150.2 96.9 L150.2 95.9 L150.3 95.1 L150.3 94.3 L150.4 93.5 L150.4 92.8 L150.5 92.1 L150.5 92.0 L150.6 91.3 L150.6 90.7 L150.7 90.0 L150.8 89.4 L150.9 88.7 L150.9 88.0 L151.0 87.4 L151.1 86.7 L151.1 86.7 L151.2 85.9 L151.3 85.2 L151.4 84.4 L151.4 83.6 L151.5 82.8 L151.6 81.9 L151.7 81.6 L151.7 81.1 L151.8 80.3 L151.9 79.6 L152.1 78.9 L152.2 78.3 L152.3 77.7 L152.3 77.7 L152.4 77.1 L152.5 76.6 L152.6 76.1 L152.7 75.6 L152.9 75.1 L152.9 75.1 L153.0 74.6 L153.1 74.2 L153.3 73.7 L153.4 73.2 L153.4 73.1 L153.5 72.8 L153.7 72.4 L153.8 71.9 L153.9 71.4 L154.0 71.2 L154.1 71.0 L154.6 69.2 L155.2 67.4 L155.8 65.7 L156.4 64.0 L157.0 62.3 L157.6 60.7 L158.1 59.2 L158.7 57.6 L159.3 56.0 L159.9 54.2 L160.5 52.0 L161.1 48.8 L161.7 46.5 L162.3 45.3 L162.9 44.3 L163.4 43.4 L164.0 42.7 L164.6 42.0 L165.2 41.4 L165.8 40.9 L166.4 40.4 L167.0 39.9 L167.6 39.4 L168.1 38.8 L168.7 38.2 L169.3 37.5 L169.9 36.9 L170.5 36.3 L171.1 35.8 L171.7 35.2 L172.3 34.6 L172.8 34.1 L173.4 33.5 L174.0 33.0 L174.6 32.5 L175.2 31.9 L175.8 31.5 L176.1 31.2" fill="none" stroke="#d8a52a" stroke-width="1.20" stroke-linejoin="round"/>
<path d="M45.95 59.84 L51.75 56.44 L51.75 63.24 Z" fill="#cc9614"/>
<path d="M51.92 63.21 L57.72 59.81 L57.72 66.61 Z" fill="#cc9614"/>
<path d="M57.89 67.85 L63.69 64.45 L63.69 71.25 Z" fill="#cc9614"/>
<path d="M63.86 71.56 L69.66 68.16 L69.66 74.96 Z" fill="#cc9614"/>
<path d="M69.83 75.28 L75.63 71.88 L75.63 78.68 Z" fill="#cc9614"/>
<path d="M75.79 78.07 L81.59 74.67 L81.59 81.47 Z" fill="#cc9614"/>
<path d="M81.76 80.48 L87.56 77.08 L87.56 83.88 Z" fill="#cc9614"/>
<path d="M87.73 82.11 L93.53 78.71 L93.53 85.51 Z" fill="#cc9614"/>
<path d="M93.70 83.50 L99.50 80.10 L99.50 86.90 Z" fill="#cc9614"/>
<path d="M99.67 84.76 L105.47 81.36 L105.47 88.16 Z" fill="#cc9614"/>
<path d="M105.64 85.81 L111.44 82.41 L111.44 89.21 Z" fill="#cc9614"/>
<path d="M111.60 86.56 L117.40 83.16 L117.40 89.96 Z" fill="#cc9614"/>
<path d="M117.57 87.00 L123.37 83.60 L123.37 90.40 Z" fill="#cc9614"/>
<path d="M123.54 87.42 L129.34 84.02 L129.34 90.82 Z" fill="#cc9614"/>
<path d="M129.51 87.82 L135.31 84.42 L135.31 91.22 Z" fill="#cc9614"/>
<path d="M135.48 88.26 L141.28 84.86 L141.28 91.66 Z" fill="#cc9614"/>
<path d="M141.44 89.38 L147.24 85.98 L147.24 92.78 Z" fill="#cc9614"/>
<path d="M147.41 94.50 L153.21 91.10 L153.21 97.90 Z" fill="#cc9614"/>
<path d="M153.38 64.29 L159.18 60.89 L159.18 67.69 Z" fill="#cc9614"/>
<path d="M159.31 45.41 L165.11 42.01 L165.11 48.81 Z" fill="#cc9614"/>
<path d="M165.70 38.30 L171.50 34.90 L171.50 41.70 Z" fill="#cc9614"/>
<path d="M173.20 31.20 L179.00 27.80 L179.00 34.60 Z" fill="#cc9614"/></g>
<rect x="124.70" y="52.20" width="43.10" height="137.10" fill="rgb(160,188,220)" fill-opacity="0.45"/>
<rect x="42.90" y="6.60" width="279.10" height="224.00" fill="none" stroke="#2a2a2a" stroke-width="1.1"/>
<text x="42.90" y="246.30" font-size="13.70" text-anchor="middle" >-1.4</text>
<text x="72.30" y="246.30" font-size="13.70" text-anchor="middle" >-1.2</text>
<text x="101.70" y="246.30" font-size="13.70" text-anchor="middle" >-1.0</text>
<text x="131.10" y="246.30" font-size="13.70" text-anchor="middle" >-0.8</text>
<text x="160.50" y="246.30" font-size="13.70" text-anchor="middle" >-0.6</text>
<text x="189.90" y="246.30" font-size="13.70" text-anchor="middle" >-0.4</text>
<text x="219.30" y="246.30" font-size="13.70" text-anchor="middle" >-0.2</text>
<text x="248.70" y="246.30" font-size="13.70" text-anchor="middle" >0.0</text>
<text x="278.10" y="246.30" font-size="13.70" text-anchor="middle" >0.2</text>
<text x="307.50" y="246.30" font-size="13.70" text-anchor="middle" >0.4</text>
<text x="38.00" y="11.00" font-size="13.70" text-anchor="end" >0</text>
<text x="38.00" y="51.66" font-size="13.70" text-anchor="end" >-2</text>
<text x="38.00" y="92.32" font-size="13.70" text-anchor="end" >-4</text>
<text x="38.00" y="132.98" font-size="13.70" text-anchor="end" >-6</text>
<text x="38.00" y="173.64" font-size="13.70" text-anchor="end" >-8</text>
<text x="38.00" y="214.30" font-size="13.70" text-anchor="end" >-10</text>
<path d="M42.90 230.60V226.40 M72.30 230.60V226.40 M101.70 230.60V226.40 M131.10 230.60V226.40 M160.50 230.60V226.40 M189.90 230.60V226.40 M219.30 230.60V226.40 M248.70 230.60V226.40 M278.10 230.60V226.40 M307.50 230.60V226.40 M42.90 6.60H47.10 M42.90 47.26H47.10 M42.90 87.92H47.10 M42.90 128.58H47.10 M42.90 169.24H47.10 M42.90 209.90H47.10" stroke="#2a2a2a" stroke-width="1.1" fill="none"/>
<text x="182.60" y="264.80" font-size="16.80" text-anchor="middle" >Potential (V)</text>
<text transform="translate(17.0,119.0) rotate(-90)" font-size="17.1" text-anchor="middle" font-family="Liberation Serif, serif">Log(i) (A·cm<tspan dy="-6.5" font-size="10.5">-2</tspan><tspan dy="6.5">)</tspan></text>
<text x="48.30" y="32.00" font-size="26.50" text-anchor="start" >(a)</text>
<g clip-path="url(#cr)"><path d="M362.7 102.3 L363.8 102.3 L364.8 102.3 L365.9 102.4 L366.9 102.4 L368.0 102.4 L369.0 102.4 L370.1 102.5 L371.1 102.5 L372.2 102.5 L373.2 102.5 L374.3 102.6 L375.4 102.6 L376.4 102.6 L377.5 102.6 L378.5 102.7 L379.6 102.7 L380.6 102.7 L381.7 102.7 L382.7 102.8 L383.8 102.8 L384.8 102.8 L385.9 102.8 L386.9 102.9 L388.0 102.9 L389.1 102.9 L390.1 102.9 L391.2 103.0 L392.2 103.0 L393.3 103.0 L394.3 103.0 L395.4 103.0 L396.4 103.1 L397.5 103.1 L398.5 103.1 L399.6 103.1 L400.6 103.2 L401.7 103.2 L402.8 103.2 L403.8 103.2 L404.9 103.2 L405.9 103.3 L407.0 103.3 L408.0 103.3 L409.1 103.3 L410.1 103.4 L411.2 103.4 L412.2 103.4 L413.3 103.4 L414.3 103.5 L415.4 103.5 L416.5 103.5 L417.5 103.5 L418.6 103.5 L419.6 103.6 L420.7 103.6 L421.7 103.6 L422.8 103.6 L423.8 103.6 L424.9 103.7 L425.9 103.7 L427.0 103.7 L428.0 103.7 L429.1 103.8 L430.2 103.8 L431.2 103.8 L432.3 103.8 L433.3 103.8 L434.4 103.9 L435.4 103.9 L436.5 103.9 L437.5 103.9 L438.6 103.9 L439.6 104.0 L440.7 104.0 L441.7 104.0 L442.8 104.0 L443.9 104.0 L444.9 104.1 L446.0 104.1 L447.0 104.1 L448.1 104.1 L449.1 104.1 L450.2 104.2 L451.2 104.2 L452.3 104.2 L453.3 104.2 L454.4 104.3 L455.4 104.3 L456.5 104.3 L457.6 104.3 L458.6 104.4 L459.7 104.4 L460.7 104.4 L461.8 104.4 L462.8 104.5 L463.9 104.5 L464.9 104.5 L466.0 104.6 L467.0 104.6 L468.1 104.6 L469.1 104.7 L470.2 104.7 L471.3 104.8 L472.3 104.8 L473.4 104.9 L474.4 104.9 L475.5 105.0 L476.5 105.0 L477.6 105.1 L478.6 105.1 L479.7 105.2 L480.7 105.3 L481.6 105.4 L481.8 105.4 L482.6 105.5 L482.8 105.5 L483.7 105.6 L483.9 105.6 L484.7 105.7 L485.0 105.7 L485.7 105.8 L486.0 105.9 L486.6 105.9 L487.1 106.0 L487.6 106.1 L488.1 106.2 L488.5 106.3 L489.2 106.4 L489.5 106.4 L490.2 106.6 L490.4 106.6 L491.2 106.8 L491.3 106.8 L492.1 107.1 L492.3 107.1 L493.0 107.3 L493.4 107.4 L493.8 107.6 L494.4 107.8 L494.6 107.8 L495.4 108.2 L495.5 108.2 L496.2 108.5 L496.6 108.7 L497.0 108.9 L497.6 109.2 L497.7 109.2 L498.4 109.7 L498.7 109.8 L499.1 110.1 L499.7 110.5 L499.8 110.6 L500.5 111.1 L500.8 111.3 L501.2 111.6 L501.8 112.2 L502.4 112.8 L502.9 113.3 L503.0 113.5 L503.6 114.1 L503.9 114.5 L504.2 114.9 L504.8 115.6 L505.0 116.0 L505.3 116.4 L505.8 117.3 L506.0 117.7 L506.3 118.2 L506.8 119.2 L507.1 119.8 L507.3 120.2 L507.7 121.2 L508.1 122.3 L508.6 123.5 L509.0 124.7 L509.2 125.6 L509.3 126.0 L509.7 127.4 L510.0 128.9 L510.3 129.9 L510.4 130.4 L510.7 132.0 L511.0 133.8 L511.2 135.7 L511.3 136.2 L511.5 137.6 L511.7 139.8 L511.9 142.1 L512.1 144.6 L512.3 147.4 L512.4 148.0 L512.5 150.5 L512.6 153.9 L512.8 157.8 L512.9 162.3 L513.0 167.6 L513.1 174.1 L513.1 182.5 L513.2 194.3 L513.2 214.6 L513.2 233.4 L513.2 211.9 L513.2 191.6 L513.3 179.8 L513.3 171.3 L513.4 165.4 L513.4 164.8 L513.5 159.4 L513.6 154.8 L513.8 150.8 L513.9 147.3 L514.1 144.1 L514.3 141.2 L514.5 138.5 L514.7 136.0 L514.9 133.7 L515.2 131.5 L515.5 129.5 L515.5 129.0 L515.7 127.5 L516.0 125.6 L516.4 123.9 L516.6 122.8 L516.7 122.2 L517.1 120.5 L517.5 118.9 L517.6 118.2 L517.8 117.4 L518.3 115.9 L518.7 114.5 L518.7 114.5 L519.1 113.1 L519.6 111.8 L519.7 111.4 L520.1 110.4 L520.6 109.2 L520.8 108.7 L521.1 107.9 L521.6 106.7 L521.8 106.3 L522.2 105.5 L522.8 104.4 L522.9 104.1 L523.4 103.2 L524.0 102.1 L524.0 102.1 L524.6 101.1 L525.0 100.3 L525.2 100.0 L525.9 98.9 L526.1 98.7 L526.6 97.9 L527.1 97.1 L527.3 96.9 L528.0 95.9 L528.2 95.7 L528.7 95.0 L529.2 94.3 L529.4 94.0 L530.2 93.1 L530.3 93.0 L531.0 92.1 L531.3 91.7 L531.8 91.2 L532.4 90.5 L532.6 90.3 L533.4 89.4 L534.3 88.5 L534.5 88.3 L535.2 87.6 L535.5 87.2 L536.0 86.7 L536.6 86.2 L536.9 85.8 L537.7 85.2 L537.9 85.0 L538.7 84.2 L538.8 84.1 L539.8 83.2 L539.8 83.2 L540.7 82.3 L540.8 82.2 L541.7 81.4 L541.9 81.3 L542.7 80.5 L542.9 80.4 L543.8 79.6 L544.0 79.5 L544.8 78.7 L545.0 78.6 L546.1 77.7 L547.1 76.8 L548.2 75.9 L549.2 75.1 L550.3 74.2 L551.4 73.3 L552.4 72.5 L553.5 71.6 L554.5 70.8 L555.6 70.0 L556.6 69.1 L557.7 68.3 L558.7 67.4 L559.8 66.6 L560.8 65.7 L561.9 64.9 L562.9 64.0 L564.0 63.2 L565.1 62.3 L566.1 61.5 L567.2 60.6 L568.2 59.8 L569.3 58.9 L570.3 58.1 L571.4 57.3 L572.4 56.4 L573.5 55.6 L574.5 54.8 L575.6 54.0 L576.6 53.2 L577.7 52.5 L578.8 51.7 L579.8 51.0 L580.9 50.2 L581.9 49.5 L583.0 48.8 L584.0 48.2 L585.1 47.5 L586.1 46.8 L587.2 46.2 L588.2 45.6 L589.3 45.0 L590.3 44.3 L591.4 43.7 L592.5 43.1 L593.5 42.5 L594.6 41.9 L595.6 41.3 L596.7 40.7 L597.7 40.1 L598.8 39.5 L599.8 38.8 L600.9 38.2 L601.9 37.6 L603.0 36.9 L604.0 36.3 L605.1 35.7 L606.2 35.0 L607.2 34.4 L608.3 33.7 L609.3 33.1 L610.4 32.5 L611.4 31.8 L612.5 31.2 L613.5 30.6 L614.6 30.0 L615.6 29.4 L616.7 28.7 L617.7 28.1 L618.8 27.5 L619.9 26.9 L620.9 26.3 L622.0 25.7 L623.0 25.1 L624.1 24.5 L625.1 23.9 L626.2 23.3 L627.2 22.6 L628.3 22.0 L629.3 21.4 L630.4 20.8 L631.4 20.2 L632.5 19.6 L633.6 19.0 L634.6 18.4 L635.7 17.8 L636.7 17.2 L637.8 16.6 L638.8 16.0 L639.9 15.4 L640.9 14.8 L642.0 14.2 L643.0 13.7 L644.1 13.1 L645.2 12.6 L646.2 12.0 L647.3 11.5 L648.3 11.0 L649.4 10.5 L650.4 10.0 L651.5 9.5 L652.5 9.0 L653.6 8.5 L654.6 8.1 L655.7 7.6 L656.7 7.2 L657.8 6.8 L658.9 6.3 L659.9 5.9 L661.0 5.5 L662.0 5.1 L663.1 4.7 L664.1 4.3 L665.2 4.0 L666.2 3.6 L667.3 3.2 L668.3 2.8 L669.4 2.4 L670.4 2.1 L671.5 1.7 L672.6 1.4 L673.6 1.0 L674.7 0.7 L675.7 0.3 L676.8 -0.0 L677.8 -0.4 L678.9 -0.7 L679.9 -1.0 L681.0 -1.4 L682.0 -1.7 L683.1 -2.0 L684.1 -2.3 L685.2 -2.6 L686.3 -2.9 L687.3 -3.2 L688.4 -3.5 L689.4 -3.8" fill="none" stroke="#505050" stroke-width="1.05" stroke-linejoin="round"/>
<rect x="368.65" y="100.21" width="4.56" height="4.56" fill="#3f3f3f"/>
<rect x="410.77" y="101.14" width="4.56" height="4.56" fill="#3f3f3f"/>
<rect x="452.89" y="102.00" width="4.56" height="4.56" fill="#3f3f3f"/>
<rect x="495.02" y="106.74" width="4.56" height="4.56" fill="#3f3f3f"/>
<rect x="537.14" y="81.23" width="4.56" height="4.56" fill="#3f3f3f"/>
<rect x="579.27" y="47.50" width="4.56" height="4.56" fill="#3f3f3f"/>
<rect x="621.39" y="22.45" width="4.56" height="4.56" fill="#3f3f3f"/>
<rect x="663.52" y="1.45" width="4.56" height="4.56" fill="#3f3f3f"/>
<path d="M" fill="none" stroke="#ee6868" stroke-width="1.05" stroke-linejoin="round"/>
<path d="M362.7 66.9 L363.8 66.9 L364.8 66.9 L365.9 66.9 L366.9 67.0 L368.0 67.0 L369.0 67.0 L370.1 67.1 L371.1 67.1 L372.2 67.1 L373.2 67.1 L374.3 67.2 L375.4 67.2 L376.4 67.2 L377.5 67.3 L378.5 67.3 L379.6 67.3 L380.6 67.4 L381.7 67.4 L382.7 67.5 L383.8 67.5 L384.8 67.5 L385.9 67.6 L386.9 67.6 L388.0 67.7 L389.1 67.7 L390.1 67.7 L391.2 67.8 L392.2 67.8 L393.3 67.9 L394.3 67.9 L395.4 67.9 L396.4 68.0 L397.5 68.0 L398.5 68.1 L399.6 68.1 L400.6 68.1 L401.7 68.2 L402.8 68.2 L403.8 68.2 L404.9 68.3 L405.9 68.3 L407.0 68.3 L408.0 68.3 L409.1 68.4 L410.1 68.4 L411.2 68.4 L412.2 68.4 L413.3 68.4 L414.3 68.5 L415.4 68.5 L416.5 68.5 L417.5 68.5 L418.6 68.5 L419.6 68.5 L420.7 68.5 L421.7 68.6 L422.8 68.6 L423.8 68.6 L424.9 68.6 L425.9 68.6 L427.0 68.6 L428.0 68.6 L429.1 68.7 L430.2 68.7 L431.2 68.7 L432.3 68.7 L433.3 68.7 L434.4 68.7 L435.4 68.7 L436.5 68.7 L437.5 68.7 L438.6 68.7 L439.6 68.8 L440.7 68.8 L441.7 68.8 L442.8 68.8 L443.9 68.8 L444.9 68.8 L446.0 68.8 L447.0 68.8 L448.1 68.8 L449.1 68.8 L450.2 68.9 L451.2 68.9 L452.3 68.9 L453.3 68.9 L454.4 68.9 L455.4 68.9 L456.5 68.9 L457.6 68.9 L458.6 68.9 L459.7 68.9 L460.7 69.0 L461.8 69.0 L462.8 69.0 L463.9 69.0 L464.9 69.0 L466.0 69.0 L467.0 69.0 L468.1 69.0 L469.1 69.0 L470.2 69.0 L471.3 69.0 L472.3 69.0 L473.4 69.1 L474.4 69.1 L475.5 69.1 L476.5 69.1 L477.6 69.1 L478.6 69.1 L479.7 69.1 L480.7 69.1 L481.8 69.1 L482.8 69.1 L483.9 69.1 L485.0 69.1 L486.0 69.2 L487.1 69.2 L488.1 69.2 L489.2 69.2 L490.2 69.2 L491.3 69.2 L492.3 69.2 L493.4 69.2 L494.4 69.3 L495.5 69.3 L496.6 69.3 L497.6 69.3 L498.7 69.3 L499.7 69.4 L500.8 69.4 L501.8 69.4 L502.9 69.4 L503.9 69.5 L505.0 69.5 L506.0 69.5 L507.1 69.6 L508.1 69.6 L509.2 69.7 L510.3 69.7 L511.3 69.8 L512.4 69.8 L513.4 69.9 L513.8 69.9 L514.5 70.0 L514.9 70.0 L515.5 70.1 L515.9 70.1 L516.6 70.2 L516.9 70.2 L517.6 70.3 L517.9 70.3 L518.7 70.4 L518.9 70.4 L519.7 70.5 L519.8 70.6 L520.8 70.7 L520.8 70.7 L521.7 70.9 L521.8 70.9 L522.6 71.0 L522.9 71.1 L523.5 71.2 L524.0 71.3 L524.4 71.4 L525.0 71.6 L525.2 71.6 L526.1 71.9 L526.1 71.9 L526.9 72.1 L527.1 72.2 L527.7 72.4 L528.2 72.6 L528.4 72.7 L529.2 73.1 L529.2 73.1 L530.0 73.4 L530.3 73.6 L530.7 73.8 L531.3 74.2 L531.4 74.2 L532.1 74.7 L532.4 74.9 L532.8 75.2 L533.4 75.7 L533.4 75.7 L534.1 76.2 L534.5 76.6 L534.7 76.8 L535.3 77.4 L535.5 77.7 L535.9 78.1 L536.5 78.8 L536.6 79.0 L537.0 79.6 L537.5 80.4 L537.7 80.5 L538.1 81.2 L538.6 82.1 L538.7 82.4 L539.0 83.0 L539.5 84.0 L539.8 84.6 L540.0 85.1 L540.4 86.2 L540.8 87.3 L540.8 87.3 L541.2 88.5 L541.6 89.8 L541.9 90.9 L541.9 91.2 L542.3 92.7 L542.6 94.2 L542.9 95.8 L542.9 95.9 L543.2 97.6 L543.5 99.4 L543.7 101.4 L544.0 103.6 L544.0 103.7 L544.2 105.9 L544.4 108.4 L544.6 111.2 L544.7 114.3 L544.9 117.7 L545.0 121.6 L545.0 121.9 L545.1 126.1 L545.2 131.4 L545.3 137.9 L545.4 146.3 L545.4 158.1 L545.4 160.7 L545.5 160.7 L545.5 160.7 L545.5 160.7 L545.5 152.8 L545.6 144.3 L545.7 137.7 L545.8 132.2 L545.9 127.5 L546.0 123.5 L546.1 121.6 L546.2 119.8 L546.3 116.5 L546.5 113.5 L546.7 110.7 L546.9 108.1 L547.1 106.0 L547.2 105.6 L547.4 103.3 L547.7 101.1 L548.0 99.0 L548.2 97.7 L548.3 97.0 L548.6 95.1 L549.0 93.3 L549.2 91.9 L549.3 91.5 L549.7 89.8 L550.1 88.2 L550.3 87.4 L550.5 86.6 L550.9 85.1 L551.4 83.8 L551.4 83.7 L551.9 82.2 L552.3 80.9 L552.4 80.7 L552.8 79.5 L553.4 78.2 L553.5 77.9 L553.9 76.9 L554.4 75.7 L554.5 75.5 L555.0 74.4 L555.6 73.3 L555.6 73.2 L556.2 72.0 L556.6 71.3 L556.8 70.9 L557.5 69.7 L557.7 69.3 L558.1 68.5 L558.7 67.5 L558.8 67.4 L559.5 66.3 L559.8 65.8 L560.2 65.1 L560.8 64.2 L560.9 64.0 L561.7 62.8 L561.9 62.5 L562.5 61.6 L562.9 60.9 L563.2 60.4 L564.0 59.3 L564.0 59.2 L564.9 58.0 L565.1 57.8 L565.7 56.9 L566.1 56.3 L566.5 55.7 L567.2 54.9 L567.4 54.6 L568.2 53.7 L568.3 53.6 L569.2 52.7 L569.3 52.6 L570.1 51.8 L570.3 51.6 L571.1 50.9 L571.4 50.6 L572.0 50.0 L572.4 49.6 L573.0 49.1 L573.5 48.7 L574.0 48.3 L574.5 47.8 L575.0 47.5 L575.6 47.0 L576.0 46.7 L576.6 46.2 L577.1 45.9 L577.7 45.4 L578.8 44.7 L579.8 44.0 L580.9 43.3 L581.9 42.7 L583.0 42.0 L584.0 41.4 L585.1 40.8 L586.1 40.2 L587.2 39.6 L588.2 39.0 L589.3 38.5 L590.3 37.9 L591.4 37.4 L592.5 36.8 L593.5 36.3 L594.6 35.8 L595.6 35.3 L596.7 34.8 L597.7 34.3 L598.8 33.9 L599.8 33.4 L600.9 32.9 L601.9 32.5 L603.0 32.0 L604.0 31.5 L605.1 31.1 L606.2 30.7 L607.2 30.2 L608.3 29.8 L609.3 29.3 L610.4 28.9 L611.4 28.5 L612.5 28.0 L613.5 27.6 L614.6 27.1 L615.6 26.7 L616.7 26.3 L617.7 25.8 L618.8 25.4 L619.9 24.9 L620.9 24.5 L622.0 24.0 L623.0 23.5 L624.1 23.1 L625.1 22.6 L626.2 22.1 L627.2 21.7 L628.3 21.2 L629.3 20.7 L630.4 20.3 L631.4 19.8 L632.5 19.4 L633.6 18.9 L634.6 18.5 L635.7 18.0 L636.7 17.6 L637.8 17.1 L638.8 16.7 L639.9 16.3 L640.9 15.8 L642.0 15.4 L643.0 14.9 L644.1 14.5 L645.2 14.0 L646.2 13.6 L647.3 13.1 L648.3 12.7 L649.4 12.2 L650.4 11.8 L651.5 11.3 L652.5 10.8 L653.6 10.4 L654.6 9.9 L655.7 9.4 L656.7 9.0 L657.8 8.5 L658.9 8.0 L659.9 7.5 L661.0 7.0 L662.0 6.5 L663.1 6.0 L664.1 5.5 L665.2 4.9 L666.2 4.4 L667.3 3.8 L668.3 3.2 L669.4 2.7 L670.4 2.1 L671.5 1.5 L672.6 1.0 L673.6 0.4 L674.7 -0.1 L675.7 -0.7 L676.8 -1.2 L677.8 -1.7 L678.9 -2.2 L679.9 -2.7 L681.0 -3.2 L682.0 -3.6 L683.1 -4.1 L684.1 -4.5 L685.2 -5.0 L686.3 -5.4 L687.3 -5.8 L688.4 -6.3 L689.4 -6.7" fill="none" stroke="#3b78d0" stroke-width="1.05" stroke-linejoin="round"/>
<path d="M370.93 64.32 L374.16 69.83 L367.70 69.83 Z" fill="#2062c8"/>
<path d="M413.05 65.68 L416.28 71.19 L409.82 71.19 Z" fill="#2062c8"/>
<path d="M455.17 66.15 L458.40 71.66 L451.94 71.66 Z" fill="#2062c8"/>
<path d="M497.30 66.55 L500.53 72.06 L494.07 72.06 Z" fill="#2062c8"/>
<path d="M539.42 81.06 L542.65 86.57 L536.19 86.57 Z" fill="#2062c8"/>
<path d="M581.55 40.14 L584.78 45.65 L578.32 45.65 Z" fill="#2062c8"/>
<path d="M623.67 20.49 L626.90 26.00 L620.44 26.00 Z" fill="#2062c8"/>
<path d="M665.80 1.83 L669.03 7.34 L662.57 7.34 Z" fill="#2062c8"/>
<path d="M362.7 72.9 L363.8 73.0 L364.8 73.0 L365.9 73.1 L366.9 73.1 L368.0 73.2 L369.0 73.2 L370.1 73.2 L371.1 73.3 L372.2 73.3 L373.2 73.4 L374.3 73.4 L375.4 73.4 L376.4 73.5 L377.5 73.5 L378.5 73.5 L379.6 73.6 L380.6 73.6 L381.7 73.6 L382.7 73.7 L383.8 73.7 L384.8 73.7 L385.9 73.8 L386.9 73.8 L388.0 73.8 L389.1 73.9 L390.1 73.9 L391.2 73.9 L392.2 73.9 L393.3 74.0 L394.3 74.0 L395.4 74.0 L396.4 74.0 L397.5 74.1 L398.5 74.1 L399.6 74.1 L400.6 74.2 L401.7 74.2 L402.8 74.2 L403.8 74.2 L404.9 74.3 L405.9 74.3 L407.0 74.3 L408.0 74.3 L409.1 74.4 L410.1 74.4 L411.2 74.4 L412.2 74.5 L413.3 74.5 L414.3 74.5 L415.4 74.5 L416.5 74.6 L417.5 74.6 L418.6 74.6 L419.6 74.7 L420.7 74.7 L421.7 74.7 L422.8 74.8 L423.8 74.8 L424.9 74.8 L425.9 74.8 L427.0 74.9 L428.0 74.9 L429.1 74.9 L430.2 75.0 L431.2 75.0 L432.3 75.0 L433.3 75.0 L434.4 75.1 L435.4 75.1 L436.5 75.1 L437.5 75.2 L438.6 75.2 L439.6 75.2 L440.7 75.2 L441.7 75.3 L442.8 75.3 L443.9 75.3 L444.9 75.4 L446.0 75.4 L447.0 75.4 L448.1 75.4 L449.1 75.5 L450.2 75.5 L451.2 75.5 L452.3 75.5 L453.3 75.6 L454.4 75.6 L455.4 75.6 L456.5 75.7 L457.6 75.7 L458.6 75.7 L459.7 75.7 L460.7 75.8 L461.8 75.8 L462.8 75.8 L463.9 75.8 L464.9 75.9 L466.0 75.9 L467.0 75.9 L468.1 75.9 L469.1 75.9 L470.2 76.0 L471.3 76.0 L472.3 76.0 L473.4 76.0 L474.4 76.1 L475.5 76.1 L476.5 76.1 L477.6 76.1 L478.6 76.2 L479.7 76.2 L480.7 76.2 L481.8 76.2 L482.8 76.3 L483.9 76.3 L485.0 76.3 L486.0 76.3 L487.1 76.4 L488.1 76.4 L489.2 76.4 L490.2 76.4 L491.3 76.5 L492.3 76.5 L493.4 76.5 L494.4 76.5 L495.5 76.6 L496.6 76.6 L497.6 76.6 L498.7 76.7 L499.7 76.7 L500.8 76.7 L501.8 76.8 L502.9 76.8 L503.3 76.8 L503.9 76.8 L504.3 76.8 L505.0 76.9 L505.4 76.9 L506.0 76.9 L506.4 76.9 L507.1 76.9 L507.4 77.0 L508.1 77.0 L508.3 77.0 L509.2 77.0 L509.3 77.0 L510.2 77.1 L510.3 77.1 L511.2 77.2 L511.3 77.2 L512.1 77.2 L512.4 77.2 L513.0 77.3 L513.4 77.3 L513.8 77.4 L514.5 77.4 L514.7 77.4 L515.5 77.5 L515.5 77.5 L516.3 77.6 L516.6 77.7 L517.1 77.7 L517.6 77.8 L517.9 77.9 L518.7 78.0 L518.7 78.0 L519.4 78.2 L519.7 78.3 L520.1 78.4 L520.8 78.6 L520.9 78.6 L521.6 78.8 L521.8 78.9 L522.2 79.1 L522.9 79.4 L522.9 79.4 L523.5 79.7 L524.0 79.9 L524.2 80.1 L524.8 80.5 L525.0 80.6 L525.3 80.9 L525.9 81.4 L526.1 81.5 L526.5 82.0 L527.0 82.6 L527.1 82.7 L527.5 83.2 L528.0 83.9 L528.2 84.1 L528.5 84.7 L529.0 85.5 L529.2 86.0 L529.4 86.4 L529.9 87.4 L530.3 88.4 L530.3 88.5 L530.7 89.6 L531.0 90.8 L531.3 91.8 L531.4 92.1 L531.7 93.4 L532.1 94.9 L532.4 96.5 L532.4 96.5 L532.7 98.2 L532.9 100.0 L533.2 102.0 L533.4 104.1 L533.4 104.2 L533.6 106.4 L533.8 108.9 L534.0 111.0 L534.2 111.0 L534.4 111.0 L534.5 111.0 L534.5 111.0 L534.6 111.0 L534.7 111.0 L534.8 111.0 L534.8 111.0 L534.9 111.0 L534.9 111.0 L534.9 111.0 L534.9 111.0 L534.9 111.0 L535.0 111.0 L535.1 111.0 L535.1 111.0 L535.2 111.0 L535.3 111.0 L535.5 111.0 L535.5 111.0 L535.6 111.0 L535.8 111.0 L536.0 111.0 L536.2 110.1 L536.4 107.5 L536.6 105.4 L536.6 105.0 L536.9 102.7 L537.2 100.5 L537.5 98.4 L537.7 97.0 L537.8 96.4 L538.1 94.4 L538.4 92.5 L538.7 91.1 L538.8 90.7 L539.2 89.0 L539.6 87.2 L539.8 86.4 L540.0 85.6 L540.4 83.9 L540.8 82.5 L540.8 82.4 L541.3 80.8 L541.8 79.3 L541.9 79.1 L542.3 77.8 L542.8 76.3 L542.9 76.0 L543.4 74.9 L543.9 73.5 L544.0 73.3 L544.5 72.1 L545.0 70.8 L545.1 70.8 L545.7 69.4 L546.1 68.5 L546.3 68.1 L546.9 66.8 L547.1 66.4 L547.6 65.5 L548.2 64.4 L548.3 64.2 L549.0 63.0 L549.2 62.5 L549.7 61.7 L550.3 60.7 L550.4 60.5 L551.2 59.3 L551.4 59.0 L551.9 58.1 L552.4 57.3 L552.7 56.8 L553.5 55.5 L553.5 55.5 L554.3 54.1 L554.5 53.8 L555.1 52.8 L555.6 52.1 L556.0 51.4 L556.6 50.5 L556.9 50.1 L557.7 48.9 L557.8 48.8 L558.7 47.6 L558.7 47.5 L559.6 46.4 L559.8 46.2 L560.5 45.4 L560.8 45.1 L561.5 44.5 L561.9 44.1 L562.5 43.7 L562.9 43.3 L563.4 43.0 L564.0 42.6 L564.5 42.3 L565.1 41.9 L565.5 41.7 L566.1 41.3 L566.5 41.0 L567.2 40.7 L568.2 40.1 L569.3 39.6 L570.3 39.1 L571.4 38.6 L572.4 38.1 L573.5 37.7 L574.5 37.3 L575.6 36.8 L576.6 36.4 L577.7 36.0 L578.8 35.6 L579.8 35.2 L580.9 34.8 L581.9 34.4 L583.0 33.9 L584.0 33.5 L585.1 33.1 L586.1 32.6 L587.2 32.2 L588.2 31.8 L589.3 31.4 L590.3 31.0 L591.4 30.6 L592.5 30.1 L593.5 29.7 L594.6 29.3 L595.6 28.9 L596.7 28.5 L597.7 28.2 L598.8 27.8 L599.8 27.4 L600.9 27.0 L601.9 26.6 L603.0 26.2 L604.0 25.9 L605.1 25.5 L606.2 25.1 L607.2 24.8 L608.3 24.4 L609.3 24.0 L610.4 23.7 L611.4 23.3 L612.5 23.0 L613.5 22.6 L614.6 22.3 L615.6 22.0 L616.7 21.6 L617.7 21.3 L618.8 21.0 L619.9 20.6 L620.9 20.3 L622.0 20.0 L623.0 19.7 L624.1 19.4 L625.1 19.0 L626.2 18.7 L627.2 18.5 L628.3 18.2 L629.3 17.9 L630.4 17.6 L631.4 17.3 L632.5 17.1 L633.6 16.8 L634.6 16.6 L635.7 16.3 L636.7 16.1 L637.8 15.8 L638.8 15.6 L639.9 15.3 L640.9 15.1 L642.0 14.8 L643.0 14.6 L644.1 14.4 L645.2 14.1 L646.2 13.9 L647.3 13.6 L648.3 13.4 L649.4 13.2 L650.4 12.9 L651.5 12.7 L652.5 12.4 L653.6 12.2 L654.6 11.9 L655.7 11.6 L656.7 11.4 L657.8 11.1 L658.9 10.8 L659.9 10.5 L661.0 10.2 L662.0 9.9 L663.1 9.6 L664.1 9.3 L665.2 9.0 L666.2 8.6 L667.3 8.3 L668.3 7.9 L669.4 7.5 L670.4 7.1 L671.5 6.6 L672.6 6.1 L673.6 5.7 L674.7 5.2 L675.7 4.7 L676.8 4.2 L677.8 3.7 L678.9 3.3 L679.9 2.9 L681.0 2.5 L682.0 2.1 L683.1 1.8 L684.1 1.5 L685.2 1.1 L686.3 0.8 L687.3 0.5 L688.4 0.1 L689.4 -0.2" fill="none" stroke="#45b882" stroke-width="1.05" stroke-linejoin="round"/>
<path d="M370.93 76.03 L374.16 70.52 L367.70 70.52 Z" fill="#27a862"/>
<path d="M413.05 77.24 L416.28 71.73 L409.82 71.73 Z" fill="#27a862"/>
<path d="M455.17 78.38 L458.40 72.87 L451.94 72.87 Z" fill="#27a862"/>
<path d="M497.30 79.38 L500.53 73.87 L494.07 73.87 Z" fill="#27a862"/>
<path d="M539.42 90.57 L542.65 85.06 L536.19 85.06 Z" fill="#27a862"/>
<path d="M581.55 37.27 L584.78 31.76 L578.32 31.76 Z" fill="#27a862"/>
<path d="M623.67 22.23 L626.90 16.72 L620.44 16.72 Z" fill="#27a862"/>
<path d="M665.80 11.52 L669.03 6.01 L662.57 6.01 Z" fill="#27a862"/>
<path d="M362.7 77.6 L363.8 77.6 L364.8 77.6 L365.9 77.6 L366.9 77.6 L368.0 77.6 L369.0 77.6 L370.1 77.6 L371.1 77.6 L372.2 77.6 L373.2 77.6 L374.3 77.6 L375.4 77.7 L376.4 77.7 L377.5 77.7 L378.5 77.7 L379.6 77.7 L380.6 77.8 L381.7 77.8 L382.7 77.8 L383.8 77.9 L384.8 77.9 L385.9 77.9 L386.9 78.0 L388.0 78.0 L389.1 78.0 L390.1 78.1 L391.2 78.1 L392.2 78.1 L393.3 78.2 L394.3 78.2 L395.4 78.2 L396.4 78.3 L397.5 78.3 L398.5 78.4 L399.6 78.4 L400.6 78.4 L401.7 78.5 L402.8 78.5 L403.8 78.5 L404.9 78.6 L405.9 78.6 L407.0 78.7 L408.0 78.7 L409.1 78.7 L410.1 78.8 L411.2 78.8 L412.2 78.8 L413.3 78.9 L414.3 78.9 L415.4 78.9 L416.5 78.9 L417.5 79.0 L418.6 79.0 L419.6 79.0 L420.7 79.1 L421.7 79.1 L422.8 79.1 L423.8 79.2 L424.9 79.2 L425.9 79.2 L427.0 79.2 L428.0 79.3 L429.1 79.3 L430.2 79.3 L431.2 79.4 L432.3 79.4 L433.3 79.4 L434.4 79.5 L435.4 79.5 L436.5 79.5 L437.5 79.5 L438.6 79.6 L439.6 79.6 L440.7 79.6 L441.7 79.7 L442.8 79.7 L443.9 79.7 L444.9 79.7 L446.0 79.8 L447.0 79.8 L448.1 79.8 L449.1 79.9 L450.2 79.9 L451.2 79.9 L452.3 79.9 L453.3 80.0 L454.4 80.0 L455.4 80.0 L456.5 80.0 L457.6 80.1 L458.6 80.1 L459.7 80.1 L460.7 80.2 L461.8 80.2 L462.8 80.2 L463.9 80.2 L464.9 80.3 L466.0 80.3 L467.0 80.3 L468.1 80.3 L469.1 80.4 L470.2 80.4 L471.3 80.4 L472.3 80.4 L473.4 80.5 L474.4 80.5 L475.5 80.5 L476.5 80.5 L477.6 80.6 L478.6 80.6 L479.7 80.6 L480.7 80.6 L481.8 80.7 L482.8 80.7 L483.9 80.7 L485.0 80.7 L486.0 80.8 L487.1 80.8 L488.1 80.8 L489.2 80.8 L490.2 80.9 L491.3 80.9 L492.3 80.9 L493.4 80.9 L494.4 81.0 L495.5 81.0 L496.6 81.0 L497.6 81.1 L498.7 81.1 L499.7 81.1 L500.8 81.2 L501.8 81.2 L502.9 81.2 L503.8 81.3 L503.9 81.3 L504.9 81.3 L505.0 81.3 L505.9 81.4 L506.0 81.4 L506.9 81.5 L507.1 81.5 L507.9 81.5 L508.1 81.5 L508.9 81.6 L509.2 81.6 L509.8 81.7 L510.3 81.7 L510.8 81.7 L511.3 81.8 L511.7 81.8 L512.4 81.9 L512.6 81.9 L513.4 82.0 L513.5 82.1 L514.4 82.2 L514.5 82.2 L515.2 82.3 L515.5 82.4 L516.0 82.5 L516.6 82.6 L516.9 82.7 L517.6 82.8 L517.7 82.9 L518.4 83.1 L518.7 83.1 L519.2 83.3 L519.7 83.5 L519.9 83.6 L520.7 83.8 L520.8 83.9 L521.4 84.2 L521.8 84.4 L522.1 84.5 L522.8 84.9 L522.9 85.0 L523.4 85.3 L524.0 85.7 L524.1 85.7 L524.7 86.2 L525.0 86.5 L525.3 86.8 L525.9 87.3 L526.1 87.5 L526.4 88.0 L527.0 88.6 L527.1 88.8 L527.5 89.3 L528.1 90.1 L528.2 90.3 L528.6 90.9 L529.0 91.8 L529.2 92.1 L529.5 92.7 L530.0 93.7 L530.3 94.4 L530.4 94.7 L530.8 95.8 L531.2 97.0 L531.3 97.5 L531.6 98.3 L531.9 99.6 L532.3 101.0 L532.4 101.5 L532.6 102.5 L532.9 104.1 L533.2 105.9 L533.4 107.5 L533.5 107.7 L533.7 109.7 L534.0 111.8 L534.2 114.1 L534.4 116.7 L534.5 118.3 L534.6 119.4 L534.7 122.5 L534.9 125.9 L535.0 129.8 L535.1 134.3 L535.2 139.6 L535.3 146.1 L535.4 149.9 L535.4 149.9 L535.4 149.9 L535.4 149.9 L535.4 149.9 L535.5 149.9 L535.5 149.9 L535.5 149.9 L535.6 146.5 L535.7 139.9 L535.8 134.4 L535.9 129.8 L536.0 125.7 L536.2 122.0 L536.3 118.8 L536.5 115.7 L536.6 114.3 L536.7 112.9 L536.9 110.3 L537.2 107.9 L537.4 105.5 L537.7 103.6 L537.7 103.3 L538.0 101.2 L538.3 99.2 L538.6 97.2 L538.7 96.7 L539.0 95.4 L539.3 93.6 L539.7 91.8 L539.8 91.5 L540.1 90.1 L540.5 88.5 L540.8 87.3 L540.9 86.9 L541.4 85.3 L541.8 83.8 L541.9 83.7 L542.3 82.3 L542.8 80.9 L542.9 80.6 L543.3 79.5 L543.9 78.1 L544.0 77.8 L544.4 76.7 L545.0 75.4 L545.0 75.3 L545.6 74.1 L546.1 73.0 L546.2 72.8 L546.8 71.5 L547.1 70.9 L547.5 70.2 L548.1 69.0 L548.2 68.9 L548.8 67.8 L549.2 67.0 L549.5 66.5 L550.2 65.3 L550.3 65.1 L550.9 64.1 L551.4 63.4 L551.7 62.8 L552.4 61.6 L552.4 61.6 L553.2 60.3 L553.5 59.9 L554.0 59.0 L554.5 58.2 L554.8 57.7 L555.6 56.5 L555.7 56.3 L556.5 55.0 L556.6 54.9 L557.4 53.7 L557.7 53.3 L558.3 52.3 L558.7 51.7 L559.2 51.0 L559.8 50.2 L560.1 49.7 L560.8 48.7 L561.0 48.5 L561.9 47.4 L562.0 47.2 L562.9 46.1 L563.0 46.0 L564.0 44.8 L564.0 44.8 L565.0 43.7 L565.1 43.6 L566.0 42.5 L566.1 42.4 L567.1 41.3 L567.2 41.2 L568.2 40.1 L569.3 39.0 L570.3 37.9 L571.4 36.8 L572.4 35.7 L573.5 34.7 L574.5 33.7 L575.6 32.6 L576.6 31.7 L577.7 30.7 L578.8 29.7 L579.8 28.8 L580.9 27.8 L581.9 26.9 L583.0 25.9 L584.0 25.0 L585.1 24.1 L586.1 23.2 L587.2 22.3 L588.2 21.4 L589.3 20.6 L590.3 19.7 L591.4 18.8 L592.5 17.9 L593.5 17.0 L594.6 16.1 L595.6 15.2 L596.7 14.2 L597.7 13.2 L598.8 12.2 L599.8 11.2 L600.9 10.1 L601.9 8.9 L603.0 7.8 L604.0 6.7 L605.1 5.7 L606.2 4.7 L607.2 3.7 L608.3 2.8 L609.3 1.8 L610.4 0.9 L611.4 -0.1 L612.5 -1.0 L613.5 -1.9 L614.6 -2.8 L615.6 -3.7 L616.7 -4.5 L617.7 -5.4 L618.8 -6.3 L619.9 -7.1 L620.9 -8.0 L622.0 -8.8 L623.0 -9.6 L624.1 -10.4 L625.1 -11.2 L626.2 -12.0 L627.2 -12.8 L628.3 -13.6 L629.3 -14.4 L630.4 -15.1 L631.4 -15.9 L632.5 -16.6 L633.6 -17.4 L634.6 -18.1 L635.7 -18.9 L636.7 -19.6 L637.8 -20.4 L638.8 -21.1 L639.9 -21.8 L640.9 -22.5 L642.0 -23.2 L643.0 -23.9 L644.1 -24.6 L645.2 -25.2 L646.2 -25.9 L647.3 -26.6 L648.3 -27.2 L649.4 -27.9 L650.4 -28.5 L651.5 -29.2 L652.5 -29.8 L653.6 -30.4 L654.6 -31.0 L655.7 -31.6 L656.7 -32.2 L657.8 -32.8" fill="none" stroke="#b884e6" stroke-width="1.05" stroke-linejoin="round"/>
<path d="M370.93 74.29 L374.25 77.61 L370.93 80.94 L367.60 77.61 Z" fill="#b06fe8"/>
<path d="M413.05 75.52 L416.37 78.84 L413.05 82.17 L409.72 78.84 Z" fill="#b06fe8"/>
<path d="M455.17 76.69 L458.50 80.01 L455.17 83.34 L451.85 80.01 Z" fill="#b06fe8"/>
<path d="M497.30 77.72 L500.62 81.05 L497.30 84.37 L493.97 81.05 Z" fill="#b06fe8"/>
<path d="M539.42 89.70 L542.75 93.02 L539.42 96.35 L536.10 93.02 Z" fill="#b06fe8"/>
<path d="M581.55 23.86 L584.87 27.19 L581.55 30.51 L578.22 27.19 Z" fill="#b06fe8"/>
<path d="M623.67 -13.43 L627.00 -10.10 L623.67 -6.78 L620.35 -10.10 Z" fill="#b06fe8"/>
<path d="M362.7 64.6 L363.8 64.6 L364.8 64.6 L365.9 64.6 L366.9 64.7 L368.0 64.7 L369.0 64.7 L370.1 64.7 L371.1 64.7 L372.2 64.8 L373.2 64.8 L374.3 64.8 L375.4 64.8 L376.4 64.8 L377.5 64.8 L378.5 64.9 L379.6 64.9 L380.6 64.9 L381.7 64.9 L382.7 64.9 L383.8 64.9 L384.8 65.0 L385.9 65.0 L386.9 65.0 L388.0 65.0 L389.1 65.0 L390.1 65.0 L391.2 65.1 L392.2 65.1 L393.3 65.1 L394.3 65.1 L395.4 65.1 L396.4 65.2 L397.5 65.2 L398.5 65.2 L399.6 65.2 L400.6 65.2 L401.7 65.2 L402.8 65.3 L403.8 65.3 L404.9 65.3 L405.9 65.3 L407.0 65.3 L408.0 65.3 L409.1 65.4 L410.1 65.4 L411.2 65.4 L412.2 65.4 L413.3 65.4 L414.3 65.4 L415.4 65.5 L416.5 65.5 L417.5 65.5 L418.6 65.5 L419.6 65.5 L420.7 65.5 L421.7 65.5 L422.8 65.6 L423.8 65.6 L424.9 65.6 L425.9 65.6 L427.0 65.6 L428.0 65.6 L429.1 65.6 L430.2 65.6 L431.2 65.7 L432.3 65.7 L433.3 65.7 L434.4 65.7 L435.4 65.7 L436.5 65.7 L437.5 65.7 L438.6 65.8 L439.6 65.8 L440.7 65.8 L441.7 65.8 L442.8 65.8 L443.9 65.8 L444.9 65.8 L446.0 65.9 L447.0 65.9 L448.1 65.9 L449.1 65.9 L450.2 65.9 L451.2 66.0 L452.3 66.0 L453.3 66.0 L454.4 66.0 L455.4 66.0 L456.5 66.1 L457.6 66.1 L458.6 66.1 L459.7 66.1 L460.7 66.1 L461.8 66.2 L462.8 66.2 L463.9 66.2 L464.9 66.2 L466.0 66.3 L467.0 66.3 L468.1 66.3 L469.1 66.3 L470.2 66.4 L471.3 66.4 L472.3 66.4 L473.4 66.5 L474.4 66.5 L475.5 66.5 L476.5 66.6 L477.6 66.6 L478.6 66.6 L479.7 66.7 L480.7 66.7 L481.8 66.7 L482.8 66.8 L483.9 66.8 L485.0 66.8 L486.0 66.9 L487.1 66.9 L488.1 66.9 L489.2 67.0 L490.2 67.0 L491.3 67.1 L492.3 67.1 L493.4 67.1 L494.4 67.2 L495.5 67.2 L496.6 67.3 L497.6 67.3 L498.7 67.4 L499.7 67.4 L500.8 67.5 L501.8 67.5 L502.9 67.6 L503.9 67.7 L505.0 67.7 L506.0 67.8 L507.1 67.9 L508.1 68.0 L509.2 68.1 L510.3 68.1 L511.3 68.2 L512.4 68.3 L513.4 68.4 L514.5 68.5 L515.5 68.6 L516.6 68.7 L517.0 68.8 L517.6 68.9 L518.0 68.9 L518.7 69.0 L519.1 69.0 L519.7 69.1 L520.1 69.2 L520.8 69.3 L521.1 69.3 L521.8 69.4 L522.0 69.4 L522.9 69.6 L523.0 69.6 L523.9 69.7 L524.0 69.7 L524.9 69.9 L525.0 69.9 L525.8 70.1 L526.1 70.1 L526.7 70.3 L527.1 70.4 L527.5 70.5 L528.2 70.6 L528.4 70.7 L529.2 70.9 L529.2 70.9 L530.0 71.2 L530.3 71.3 L530.8 71.5 L531.3 71.7 L531.6 71.8 L532.4 72.1 L532.4 72.1 L533.1 72.5 L533.4 72.6 L533.8 72.9 L534.5 73.2 L534.6 73.3 L535.3 73.7 L535.5 73.9 L535.9 74.2 L536.6 74.7 L536.6 74.7 L537.2 75.3 L537.7 75.7 L537.9 75.8 L538.5 76.5 L538.7 76.7 L539.0 77.1 L539.6 77.8 L539.8 78.0 L540.2 78.6 L540.7 79.4 L540.8 79.5 L541.2 80.2 L541.7 81.1 L541.9 81.4 L542.2 82.0 L542.7 83.0 L542.9 83.6 L543.1 84.1 L543.6 85.2 L544.0 86.3 L544.0 86.3 L544.4 87.5 L544.7 88.8 L545.0 89.9 L545.1 90.2 L545.4 91.7 L545.8 93.2 L546.1 94.8 L546.1 94.9 L546.4 96.6 L546.6 98.4 L546.9 100.4 L547.1 102.6 L547.1 102.7 L547.3 104.9 L547.6 107.4 L547.7 110.2 L547.9 113.3 L548.1 116.7 L548.2 120.6 L548.2 120.9 L548.3 123.1 L548.4 123.1 L548.5 123.1 L548.5 123.1 L548.6 123.1 L548.6 123.1 L548.6 123.1 L548.6 123.1 L548.6 123.1 L548.7 123.1 L548.8 123.1 L548.8 123.1 L548.9 118.1 L549.0 113.4 L549.2 109.3 L549.2 107.5 L549.3 105.7 L549.5 102.4 L549.7 99.4 L549.9 96.7 L550.1 94.1 L550.3 92.1 L550.3 91.8 L550.6 89.6 L550.9 87.5 L551.2 85.6 L551.4 84.4 L551.5 83.8 L551.8 82.1 L552.1 80.5 L552.4 79.3 L552.5 79.0 L552.9 77.6 L553.3 76.2 L553.5 75.6 L553.7 74.9 L554.1 73.7 L554.5 72.6 L554.5 72.5 L555.0 71.4 L555.5 70.3 L555.6 70.1 L556.0 69.2 L556.5 68.1 L556.6 67.9 L557.1 67.0 L557.6 65.9 L557.7 65.8 L558.2 64.8 L558.7 63.7 L558.8 63.7 L559.4 62.5 L559.8 61.6 L560.0 61.2 L560.6 59.9 L560.8 59.5 L561.3 58.6 L561.9 57.4 L562.0 57.2 L562.7 55.9 L562.9 55.3 L563.4 54.5 L564.0 53.4 L564.1 53.2 L564.9 52.0 L565.1 51.7 L565.6 50.8 L566.1 50.2 L566.4 49.8 L567.2 48.9 L567.2 48.9 L568.0 48.0 L568.2 47.7 L568.8 47.1 L569.3 46.6 L569.7 46.2 L570.3 45.6 L570.6 45.4 L571.4 44.7 L571.5 44.6 L572.4 43.8 L572.4 43.7 L573.3 43.0 L573.5 42.9 L574.2 42.3 L574.5 42.0 L575.2 41.5 L575.6 41.2 L576.2 40.8 L576.6 40.4 L577.1 40.1 L577.7 39.6 L578.2 39.3 L578.8 38.9 L579.2 38.5 L579.8 38.1 L580.2 37.8 L580.9 37.3 L581.9 36.5 L583.0 35.7 L584.0 34.9 L585.1 34.1 L586.1 33.4 L587.2 32.7 L588.2 31.9 L589.3 31.2 L590.3 30.5 L591.4 29.8 L592.5 29.1 L593.5 28.4 L594.6 27.7 L595.6 27.0 L596.7 26.3 L597.7 25.6 L598.8 24.9 L599.8 24.2 L600.9 23.5 L601.9 22.8 L603.0 22.1 L604.0 21.4 L605.1 20.8 L606.2 20.2 L607.2 19.5 L608.3 18.9 L609.3 18.3 L610.4 17.7 L611.4 17.1 L612.5 16.4 L613.5 15.8 L614.6 15.1 L615.6 14.5 L616.7 13.8 L617.7 13.1 L618.8 12.4 L619.9 11.7 L620.9 10.9 L622.0 10.1 L623.0 9.3 L624.1 8.4 L625.1 7.5 L626.2 6.5 L627.2 5.2 L628.3 3.9 L629.3 2.5 L630.4 1.1 L631.4 -0.1 L632.5 -1.2 L633.6 -2.0 L634.6 -2.6 L635.7 -3.1 L636.7 -3.6 L637.8 -4.1 L638.8 -4.6 L639.9 -5.0 L640.9 -5.4 L642.0 -5.8 L643.0 -6.2 L644.1 -6.6 L645.2 -7.0 L646.2 -7.3 L647.3 -7.7 L648.3 -8.0 L649.4 -8.3 L650.4 -8.6 L651.5 -8.9 L652.5 -9.2 L653.6 -9.5 L654.6 -9.7 L655.7 -10.0 L656.7 -10.2 L657.8 -10.5 L658.9 -10.7 L659.9 -10.9 L661.0 -11.2 L662.0 -11.4 L663.1 -11.6 L664.1 -11.8 L665.2 -12.0 L666.2 -12.2 L667.3 -12.4 L668.3 -12.6 L669.4 -12.8 L670.4 -13.1 L671.5 -13.3 L672.6 -13.5 L673.6 -13.7 L674.7 -13.9 L675.7 -14.1 L676.8 -14.4 L677.8 -14.6 L678.9 -14.8 L679.9 -15.1 L681.0 -15.3 L682.0 -15.6 L683.1 -15.8 L684.1 -16.1 L685.2 -16.4 L686.3 -16.6 L687.3 -16.9 L688.4 -17.1 L689.4 -17.4" fill="none" stroke="#d8a52a" stroke-width="1.05" stroke-linejoin="round"/>
<path d="M368.17 64.73 L373.68 61.50 L373.68 67.96 Z" fill="#cc9614"/>
<path d="M410.29 65.42 L415.80 62.19 L415.80 68.65 Z" fill="#cc9614"/>
<path d="M452.42 66.02 L457.93 62.79 L457.93 69.25 Z" fill="#cc9614"/>
<path d="M494.54 67.29 L500.05 64.06 L500.05 70.52 Z" fill="#cc9614"/>
<path d="M536.67 77.59 L542.18 74.36 L542.18 80.82 Z" fill="#cc9614"/>
<path d="M578.79 36.75 L584.30 33.52 L584.30 39.98 Z" fill="#cc9614"/>
<path d="M620.92 8.75 L626.43 5.52 L626.43 11.98 Z" fill="#cc9614"/>
<path d="M663.04 -12.14 L668.55 -15.37 L668.55 -8.91 Z" fill="#cc9614"/></g>
<rect x="370.00" y="6.60" width="312.60" height="226.05" fill="none" stroke="#2a2a2a" stroke-width="1.1"/>
<text x="415.40" y="247.90" font-size="13.60" text-anchor="middle" >-0.80</text>
<text x="499.71" y="247.90" font-size="13.60" text-anchor="middle" >-0.72</text>
<text x="584.02" y="247.90" font-size="13.60" text-anchor="middle" >-0.64</text>
<text x="668.34" y="247.90" font-size="13.60" text-anchor="middle" >-0.56</text>
<text x="365.50" y="36.50" font-size="13.60" text-anchor="end" >-3</text>
<text x="365.50" y="70.04" font-size="13.60" text-anchor="end" >-4</text>
<text x="365.50" y="103.58" font-size="13.60" text-anchor="end" >-5</text>
<text x="365.50" y="137.12" font-size="13.60" text-anchor="end" >-6</text>
<text x="365.50" y="170.66" font-size="13.60" text-anchor="end" >-7</text>
<text x="365.50" y="204.20" font-size="13.60" text-anchor="end" >-8</text>
<path d="M415.40 232.65V228.45 M499.71 232.65V228.45 M584.02 232.65V228.45 M668.34 232.65V228.45 M370.00 32.20H374.20 M370.00 65.74H374.20 M370.00 99.28H374.20 M370.00 132.82H374.20 M370.00 166.36H374.20 M370.00 199.90H374.20" stroke="#2a2a2a" stroke-width="1.1" fill="none"/>
<text x="526.30" y="265.10" font-size="16.20" text-anchor="middle" >Potential (V)</text>
<text transform="translate(345.5,119.3) rotate(-90)" font-size="16.6" text-anchor="middle" font-family="Liberation Serif, serif">Log(i) (A·cm<tspan dy="-6.3" font-size="10.2">-2</tspan><tspan dy="6.3">)</tspan></text>
<text x="374.80" y="27.80" font-size="26.50" text-anchor="start" >(b)</text>
<path d="M206.30 17.80H232.00" stroke="#505050" stroke-width="1.3"/>
<rect x="216.80" y="15.40" width="4.80" height="4.80" fill="#3f3f3f"/>
<text x="235.40" y="22.00" font-size="13.65" text-anchor="start" >Al-base metal</text>
<path d="M206.30 34.88H232.00" stroke="#ee6868" stroke-width="1.3"/>
<circle cx="219.20" cy="34.88" r="2.90" fill="#e6343c"/>
<text x="235.40" y="39.08" font-size="13.65" text-anchor="start" >Cu-base metal</text>
<path d="M206.30 51.96H232.00" stroke="#3b78d0" stroke-width="1.3"/>
<path d="M219.20 49.06 L222.60 54.86 L215.80 54.86 Z" fill="#2062c8"/>
<text x="235.40" y="56.16" font-size="13.65" text-anchor="start" >700-100</text>
<path d="M206.30 69.04H232.00" stroke="#45b882" stroke-width="1.3"/>
<path d="M219.20 71.94 L222.60 66.14 L215.80 66.14 Z" fill="#27a862"/>
<text x="235.40" y="73.24" font-size="13.65" text-anchor="start" >700-400</text>
<path d="M206.30 86.12H232.00" stroke="#b884e6" stroke-width="1.3"/>
<path d="M219.20 82.62 L222.70 86.12 L219.20 89.62 L215.70 86.12 Z" fill="#b06fe8"/>
<text x="235.40" y="90.32" font-size="13.65" text-anchor="start" >850-400</text>
<path d="M206.30 103.20H232.00" stroke="#d8a52a" stroke-width="1.3"/>
<path d="M216.30 103.20 L222.10 99.80 L222.10 106.60 Z" fill="#cc9614"/>
<text x="235.40" y="107.40" font-size="13.65" text-anchor="start" >1000-400</text>
<path d="M569.90 74.90H594.20" stroke="#505050" stroke-width="1.3"/>
<rect x="580.05" y="72.55" width="4.70" height="4.70" fill="#3f3f3f"/>
<text x="597.60" y="79.22" font-size="13.25" text-anchor="start" >Al-base metal</text>
<path d="M569.90 91.10H594.20" stroke="#ee6868" stroke-width="1.3"/>
<circle cx="582.40" cy="91.10" r="2.84" fill="#e6343c"/>
<text x="597.60" y="95.42" font-size="13.25" text-anchor="start" >Cu-base metal</text>
<path d="M569.90 107.30H594.20" stroke="#3b78d0" stroke-width="1.3"/>
<path d="M582.40 104.46 L585.73 110.14 L579.07 110.14 Z" fill="#2062c8"/>
<text x="597.60" y="111.62" font-size="13.25" text-anchor="start" >700-100</text>
<path d="M569.90 123.50H594.20" stroke="#45b882" stroke-width="1.3"/>
<path d="M582.40 126.34 L585.73 120.66 L579.07 120.66 Z" fill="#27a862"/>
<text x="597.60" y="127.82" font-size="13.25" text-anchor="start" >700-400</text>
<path d="M569.90 139.70H594.20" stroke="#b884e6" stroke-width="1.3"/>
<path d="M582.40 136.27 L585.83 139.70 L582.40 143.13 L578.97 139.70 Z" fill="#b06fe8"/>
<text x="597.60" y="144.02" font-size="13.25" text-anchor="start" >850-400</text>
<path d="M569.90 155.90H594.20" stroke="#d8a52a" stroke-width="1.3"/>
<path d="M579.56 155.90 L585.24 152.57 L585.24 159.23 Z" fill="#cc9614"/>
<text x="597.60" y="160.22" font-size="13.25" text-anchor="start" >1000-400</text>
<path d="M167.80 52.20L370.00 6.60 M167.80 189.30L370.00 232.65" stroke="#1f4b96" stroke-width="2.3" stroke-dasharray="7.9 4.8" stroke-dashoffset="1.0" fill="none"/>
</svg>
</body></html>
